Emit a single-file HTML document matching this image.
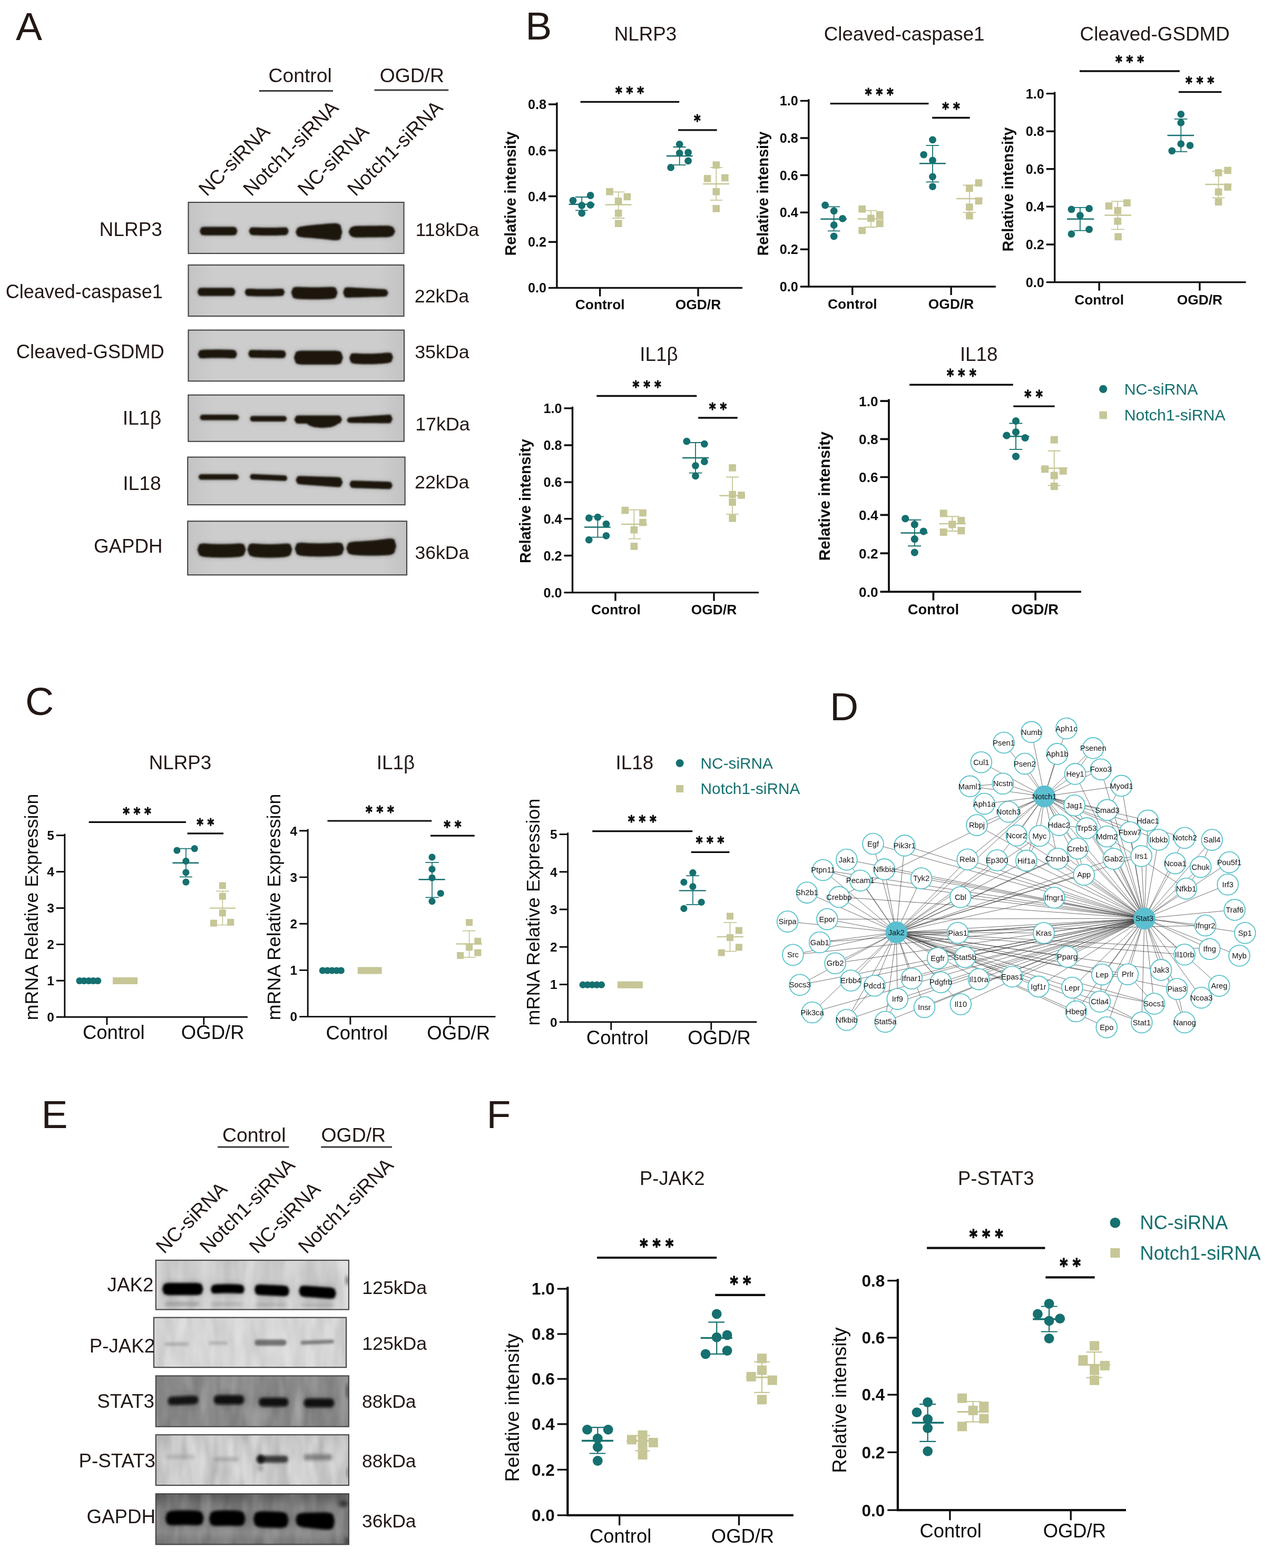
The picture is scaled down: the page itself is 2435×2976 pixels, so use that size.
<!DOCTYPE html>
<html lang="en"><head><meta charset="utf-8"><title>Figure</title>
<style>html,body{margin:0;padding:0;background:#fff}svg{display:block}text{font-family:"Liberation Sans",sans-serif}text.s{font-family:"DejaVu Sans","Liberation Sans",sans-serif;font-weight:700;fill:#0d0d0d;stroke:#0d0d0d;stroke-width:1.1px;stroke-linejoin:round}</style>
</head><body>
<svg width="2435" height="2976" viewBox="0 0 2435 2976" fill="#231815">
<defs><linearGradient id="vig" x1="0" x2="1" y1="0" y2="0"><stop offset="0" stop-color="#000" stop-opacity=".07"/><stop offset=".12" stop-color="#000" stop-opacity="0"/><stop offset=".88" stop-color="#000" stop-opacity="0"/><stop offset="1" stop-color="#000" stop-opacity=".08"/></linearGradient><linearGradient id="dtop" x1="0" x2="0" y1="0" y2="1"><stop offset="0" stop-color="#000" stop-opacity=".35"/><stop offset=".3" stop-color="#000" stop-opacity=".08"/><stop offset=".75" stop-color="#000" stop-opacity="0"/><stop offset="1" stop-color="#000" stop-opacity=".15"/></linearGradient><filter id="nz2" x="0" y="0" width="100%" height="100%"><feTurbulence type="fractalNoise" baseFrequency="0.05 0.015" numOctaves="2" seed="23"/><feColorMatrix type="matrix" values="0 0 0 0 1  0 0 0 0 1  0 0 0 0 1  1.5 0 0 0 -0.55"/></filter><filter id="nz" x="0" y="0" width="100%" height="100%"><feTurbulence type="fractalNoise" baseFrequency="0.045 0.012" numOctaves="2" seed="7"/><feColorMatrix type="matrix" values="0 0 0 0 0  0 0 0 0 0  0 0 0 0 0  1.5 0 0 0 -0.5"/></filter><clipPath id="bc1"><rect x="357.5" y="384" width="409" height="97"/></clipPath><filter id="bl0" x="-30%" y="-150%" width="160%" height="400%"><feGaussianBlur stdDeviation="4.5"/></filter><filter id="bl1" x="-30%" y="-150%" width="160%" height="400%"><feGaussianBlur stdDeviation="1.5"/></filter><clipPath id="bc2"><rect x="357.5" y="503" width="409" height="97"/></clipPath><clipPath id="bc3"><rect x="357.5" y="626.5" width="409.5" height="96.8"/></clipPath><clipPath id="bc4"><rect x="357.3" y="749.7" width="409.5" height="88.1"/></clipPath><clipPath id="bc5"><rect x="356.2" y="867.6" width="412.4" height="90.5"/></clipPath><clipPath id="bc6"><rect x="356.2" y="989.2" width="415.8" height="102"/></clipPath><clipPath id="bc7"><rect x="295.8" y="2391.9" width="366.1" height="93.6"/></clipPath><filter id="bl2" x="-30%" y="-150%" width="160%" height="400%"><feGaussianBlur stdDeviation="9.0"/></filter><filter id="bl3" x="-30%" y="-150%" width="160%" height="400%"><feGaussianBlur stdDeviation="6.0"/></filter><filter id="bl4" x="-30%" y="-150%" width="160%" height="400%"><feGaussianBlur stdDeviation="1.9"/></filter><filter id="bl5" x="-30%" y="-150%" width="160%" height="400%"><feGaussianBlur stdDeviation="3.0"/></filter><clipPath id="bc8"><rect x="291.9" y="2500.6" width="365.2" height="94.6"/></clipPath><filter id="bl6" x="-30%" y="-150%" width="160%" height="400%"><feGaussianBlur stdDeviation="2.5"/></filter><filter id="bl7" x="-30%" y="-150%" width="160%" height="400%"><feGaussianBlur stdDeviation="2.1"/></filter><clipPath id="bc9"><rect x="295.8" y="2611.3" width="366.1" height="96.4"/></clipPath><filter id="bl8" x="-30%" y="-150%" width="160%" height="400%"><feGaussianBlur stdDeviation="7.0"/></filter><filter id="bl9" x="-30%" y="-150%" width="160%" height="400%"><feGaussianBlur stdDeviation="2.9"/></filter><clipPath id="bc10"><rect x="295.8" y="2723.2" width="366.1" height="95.8"/></clipPath><filter id="bl10" x="-30%" y="-150%" width="160%" height="400%"><feGaussianBlur stdDeviation="2.6"/></filter><clipPath id="bc11"><rect x="295.8" y="2835.2" width="366.1" height="96.1"/></clipPath></defs>
<rect width="2435" height="2976" fill="#fff"/>
<text x="30" y="76" font-size="75">A</text>
<text x="997.3" y="75.4" font-size="75">B</text>
<text x="48" y="1357" font-size="75">C</text>
<text x="1575" y="1366.5" font-size="75">D</text>
<text x="78.5" y="2141" font-size="75">E</text>
<text x="923.5" y="2141" font-size="75">F</text>
<text x="569.7" y="155.6" font-size="37.3" text-anchor="middle">Control</text>
<path d="M491.8 172.5L632 172.5" stroke="#3e3a39" stroke-width="2.8"/>
<text x="781.8" y="155.6" font-size="37.3" text-anchor="middle">OGD/R</text>
<path d="M710.5 171L851.2 171" stroke="#3e3a39" stroke-width="2.8"/>
<text transform="translate(392.5 374) rotate(-45)" font-size="37.4">NC-siRNA</text>
<text transform="translate(477 374) rotate(-45)" font-size="37.4">Notch1-siRNA</text>
<text transform="translate(580.5 374) rotate(-45)" font-size="37.4">NC-siRNA</text>
<text transform="translate(674.8 374) rotate(-45)" font-size="37.4">Notch1-siRNA</text>
<g clip-path="url(#bc1)">
<rect x="357.5" y="384" width="409" height="97" fill="#cdcdcd"/>
<rect x="357.5" y="384" width="409" height="97" fill="url(#vig)" opacity="0.625"/>
<g fill="#1a1a1a" opacity="0.22" filter="url(#bl0)"><path d="M379 438.6L381.8 431.8L384.5 430.9L387.3 430.6L390 430.5L392.8 430.5L395.5 430.5L398.3 430.5L401 430.5L403.8 430.5L406.5 430.5L409.3 430.5L412 430.5L414.8 430.5L417.6 430.5L420.3 430.5L423.1 430.5L425.8 430.5L428.6 430.5L431.3 430.5L434.1 430.5L436.8 430.5L439.6 430.5L442.3 430.6L445.1 430.9L447.8 431.8L450.6 438.6L450.6 438.6L447.8 445.4L445.1 446.3L442.3 446.6L439.6 446.7L436.8 446.7L434.1 446.7L431.3 446.7L428.6 446.7L425.8 446.7L423.1 446.7L420.3 446.7L417.6 446.7L414.8 446.7L412 446.7L409.3 446.7L406.5 446.7L403.8 446.7L401 446.7L398.3 446.7L395.5 446.7L392.8 446.7L390 446.7L387.3 446.6L384.5 446.3L381.8 445.4L379 438.6Z"/></g><g fill="#1c1310" filter="url(#bl1)"><path d="M379 438.6L381.8 431.8L384.5 430.9L387.3 430.6L390 430.5L392.8 430.5L395.5 430.5L398.3 430.5L401 430.5L403.8 430.5L406.5 430.5L409.3 430.5L412 430.5L414.8 430.5L417.6 430.5L420.3 430.5L423.1 430.5L425.8 430.5L428.6 430.5L431.3 430.5L434.1 430.5L436.8 430.5L439.6 430.5L442.3 430.6L445.1 430.9L447.8 431.8L450.6 438.6L450.6 438.6L447.8 445.4L445.1 446.3L442.3 446.6L439.6 446.7L436.8 446.7L434.1 446.7L431.3 446.7L428.6 446.7L425.8 446.7L423.1 446.7L420.3 446.7L417.6 446.7L414.8 446.7L412 446.7L409.3 446.7L406.5 446.7L403.8 446.7L401 446.7L398.3 446.7L395.5 446.7L392.8 446.7L390 446.7L387.3 446.6L384.5 446.3L381.8 445.4L379 438.6Z"/></g>
<g fill="#1a1a1a" opacity="0.22" filter="url(#bl0)"><path d="M472.4 438.5L475.3 432.2L478.2 431.5L481.1 431.4L484 431.5L486.9 431.6L489.8 431.7L492.8 431.8L495.7 431.9L498.6 431.9L501.5 431.9L504.4 432L507.3 432L510.2 432L513.1 432L516 432L518.9 431.9L521.8 431.9L524.7 431.9L527.6 431.8L530.6 431.7L533.5 431.6L536.4 431.5L539.3 431.4L542.2 431.5L545.1 432.2L548 438.5L548 438.5L545.1 445.1L542.2 446L539.3 446.4L536.4 446.5L533.5 446.6L530.6 446.7L527.6 446.8L524.7 446.9L521.8 446.9L518.9 446.9L516 447L513.1 447L510.2 447L507.3 447L504.4 447L501.5 446.9L498.6 446.9L495.7 446.9L492.8 446.8L489.8 446.7L486.9 446.6L484 446.5L481.1 446.4L478.2 446L475.3 445.1L472.4 438.5Z"/></g><g fill="#1c1310" filter="url(#bl1)"><path d="M472.4 438.5L475.3 432.2L478.2 431.5L481.1 431.4L484 431.5L486.9 431.6L489.8 431.7L492.8 431.8L495.7 431.9L498.6 431.9L501.5 431.9L504.4 432L507.3 432L510.2 432L513.1 432L516 432L518.9 431.9L521.8 431.9L524.7 431.9L527.6 431.8L530.6 431.7L533.5 431.6L536.4 431.5L539.3 431.4L542.2 431.5L545.1 432.2L548 438.5L548 438.5L545.1 445.1L542.2 446L539.3 446.4L536.4 446.5L533.5 446.6L530.6 446.7L527.6 446.8L524.7 446.9L521.8 446.9L518.9 446.9L516 447L513.1 447L510.2 447L507.3 447L504.4 447L501.5 446.9L498.6 446.9L495.7 446.9L492.8 446.8L489.8 446.7L486.9 446.6L484 446.5L481.1 446.4L478.2 446L475.3 445.1L472.4 438.5Z"/></g>
<g fill="#1a1a1a" opacity="0.22" filter="url(#bl0)"><path d="M561 440.5L564.4 432.8L567.8 431.1L571.2 430.1L574.6 429.4L578 428.9L581.4 428.5L584.8 428.1L588.2 427.7L591.6 427.3L595 427L598.4 426.6L601.8 426.3L605.2 426L608.7 425.7L612.1 425.4L615.5 425.1L618.9 424.8L622.3 424.6L625.7 424.3L629.1 424.1L632.5 423.9L635.9 423.8L639.3 424L642.7 424.9L646.1 427L649.5 440.5L649.5 440.5L646.1 453.7L642.7 455.6L639.3 456.1L635.9 456.1L632.5 455.9L629.1 455.5L625.7 455.1L622.3 454.7L618.9 454.3L615.5 454L612.1 453.6L608.7 453.3L605.2 453L601.8 452.7L598.4 452.4L595 452.1L591.6 451.8L588.2 451.6L584.8 451.3L581.4 451.1L578 450.9L574.6 450.6L571.2 450.1L567.8 449.3L564.4 447.9L561 440.5Z"/></g><g fill="#1c1310" filter="url(#bl1)"><path d="M561 440.5L564.4 432.8L567.8 431.1L571.2 430.1L574.6 429.4L578 428.9L581.4 428.5L584.8 428.1L588.2 427.7L591.6 427.3L595 427L598.4 426.6L601.8 426.3L605.2 426L608.7 425.7L612.1 425.4L615.5 425.1L618.9 424.8L622.3 424.6L625.7 424.3L629.1 424.1L632.5 423.9L635.9 423.8L639.3 424L642.7 424.9L646.1 427L649.5 440.5L649.5 440.5L646.1 453.7L642.7 455.6L639.3 456.1L635.9 456.1L632.5 455.9L629.1 455.5L625.7 455.1L622.3 454.7L618.9 454.3L615.5 454L612.1 453.6L608.7 453.3L605.2 453L601.8 452.7L598.4 452.4L595 452.1L591.6 451.8L588.2 451.6L584.8 451.3L581.4 451.1L578 450.9L574.6 450.6L571.2 450.1L567.8 449.3L564.4 447.9L561 440.5Z"/></g>
<g fill="#1a1a1a" opacity="0.22" filter="url(#bl0)"><path d="M661.5 440L664.9 432.7L668.3 430.6L671.7 429.5L675.1 429L678.5 428.8L681.9 428.8L685.3 428.7L688.7 428.7L692.1 428.7L695.5 428.6L698.9 428.6L702.3 428.5L705.8 428.5L709.2 428.5L712.6 428.4L716 428.4L719.4 428.3L722.8 428.3L726.2 428.3L729.6 428.2L733 428.2L736.4 428.3L739.8 428.7L743.2 429.8L746.6 431.8L750 439L750 439L746.6 446.3L743.2 448.4L739.8 449.5L736.4 450L733 450.2L729.6 450.2L726.2 450.3L722.8 450.3L719.4 450.3L716 450.4L712.6 450.4L709.2 450.5L705.8 450.5L702.3 450.5L698.9 450.6L695.5 450.6L692.1 450.7L688.7 450.7L685.3 450.7L681.9 450.8L678.5 450.8L675.1 450.7L671.7 450.3L668.3 449.2L664.9 447.2L661.5 440Z"/></g><g fill="#1c1310" filter="url(#bl1)"><path d="M661.5 440L664.9 432.7L668.3 430.6L671.7 429.5L675.1 429L678.5 428.8L681.9 428.8L685.3 428.7L688.7 428.7L692.1 428.7L695.5 428.6L698.9 428.6L702.3 428.5L705.8 428.5L709.2 428.5L712.6 428.4L716 428.4L719.4 428.3L722.8 428.3L726.2 428.3L729.6 428.2L733 428.2L736.4 428.3L739.8 428.7L743.2 429.8L746.6 431.8L750 439L750 439L746.6 446.3L743.2 448.4L739.8 449.5L736.4 450L733 450.2L729.6 450.2L726.2 450.3L722.8 450.3L719.4 450.3L716 450.4L712.6 450.4L709.2 450.5L705.8 450.5L702.3 450.5L698.9 450.6L695.5 450.6L692.1 450.7L688.7 450.7L685.3 450.7L681.9 450.8L678.5 450.8L675.1 450.7L671.7 450.3L668.3 449.2L664.9 447.2L661.5 440Z"/></g>
</g>
<rect x="357.5" y="384" width="409" height="97" fill="none" stroke="#454242" stroke-width="2.1"/>
<g clip-path="url(#bc2)">
<rect x="357.5" y="503" width="409" height="97" fill="#cdcdcd"/>
<rect x="357.5" y="503" width="409" height="97" fill="url(#vig)" opacity="0.625"/>
<g fill="#1a1a1a" opacity="0.22" filter="url(#bl0)"><path d="M374.6 554L377.4 547.5L380.2 546.6L383 546.3L385.7 546.3L388.5 546.3L391.3 546.3L394.1 546.3L396.9 546.3L399.7 546.3L402.4 546.3L405.2 546.3L408 546.3L410.8 546.3L413.6 546.3L416.4 546.3L419.2 546.3L421.9 546.3L424.7 546.3L427.5 546.3L430.3 546.3L433.1 546.3L435.9 546.3L438.6 546.3L441.4 546.6L444.2 547.5L447 554L447 554L444.2 560.6L441.4 561.5L438.6 561.8L435.9 561.8L433.1 561.8L430.3 561.8L427.5 561.8L424.7 561.8L421.9 561.8L419.2 561.8L416.4 561.8L413.6 561.8L410.8 561.8L408 561.8L405.2 561.8L402.4 561.8L399.7 561.8L396.9 561.8L394.1 561.8L391.3 561.8L388.5 561.8L385.7 561.8L383 561.8L380.2 561.5L377.4 560.6L374.6 554Z"/></g><g fill="#1c1310" filter="url(#bl1)"><path d="M374.6 554L377.4 547.5L380.2 546.6L383 546.3L385.7 546.3L388.5 546.3L391.3 546.3L394.1 546.3L396.9 546.3L399.7 546.3L402.4 546.3L405.2 546.3L408 546.3L410.8 546.3L413.6 546.3L416.4 546.3L419.2 546.3L421.9 546.3L424.7 546.3L427.5 546.3L430.3 546.3L433.1 546.3L435.9 546.3L438.6 546.3L441.4 546.6L444.2 547.5L447 554L447 554L444.2 560.6L441.4 561.5L438.6 561.8L435.9 561.8L433.1 561.8L430.3 561.8L427.5 561.8L424.7 561.8L421.9 561.8L419.2 561.8L416.4 561.8L413.6 561.8L410.8 561.8L408 561.8L405.2 561.8L402.4 561.8L399.7 561.8L396.9 561.8L394.1 561.8L391.3 561.8L388.5 561.8L385.7 561.8L383 561.8L380.2 561.5L377.4 560.6L374.6 554Z"/></g>
<g fill="#1a1a1a" opacity="0.22" filter="url(#bl0)"><path d="M464.4 554.5L467.3 548.5L470.3 547.9L473.2 547.9L476.1 548L479 548.1L482 548.2L484.9 548.3L487.8 548.4L490.7 548.4L493.7 548.4L496.6 548.5L499.5 548.5L502.4 548.5L505.4 548.5L508.3 548.5L511.2 548.4L514.2 548.4L517.1 548.4L520 548.3L522.9 548.2L525.9 548.1L528.8 548L531.7 547.9L534.6 547.9L537.6 548.5L540.5 554.5L540.5 554.5L537.6 560.8L534.6 561.6L531.7 561.9L528.8 562L525.9 562.1L522.9 562.2L520 562.3L517.1 562.4L514.2 562.4L511.2 562.4L508.3 562.5L505.4 562.5L502.4 562.5L499.5 562.5L496.6 562.5L493.7 562.4L490.7 562.4L487.8 562.4L484.9 562.3L482 562.2L479 562.1L476.1 562L473.2 561.9L470.3 561.6L467.3 560.8L464.4 554.5Z"/></g><g fill="#1c1310" filter="url(#bl1)"><path d="M464.4 554.5L467.3 548.5L470.3 547.9L473.2 547.9L476.1 548L479 548.1L482 548.2L484.9 548.3L487.8 548.4L490.7 548.4L493.7 548.4L496.6 548.5L499.5 548.5L502.4 548.5L505.4 548.5L508.3 548.5L511.2 548.4L514.2 548.4L517.1 548.4L520 548.3L522.9 548.2L525.9 548.1L528.8 548L531.7 547.9L534.6 547.9L537.6 548.5L540.5 554.5L540.5 554.5L537.6 560.8L534.6 561.6L531.7 561.9L528.8 562L525.9 562.1L522.9 562.2L520 562.3L517.1 562.4L514.2 562.4L511.2 562.4L508.3 562.5L505.4 562.5L502.4 562.5L499.5 562.5L496.6 562.5L493.7 562.4L490.7 562.4L487.8 562.4L484.9 562.3L482 562.2L479 562.1L476.1 562L473.2 561.9L470.3 561.6L467.3 560.8L464.4 554.5Z"/></g>
<g fill="#1a1a1a" opacity="0.22" filter="url(#bl0)"><path d="M552.6 555.2L556 546.2L559.4 545L562.8 544.6L566.2 544.6L569.5 544.7L572.9 544.8L576.3 544.9L579.7 545L583.1 545.1L586.5 545.2L589.9 545.2L593.3 545.2L596.7 545.2L600 545.2L603.4 545.2L606.8 545.2L610.2 545.1L613.6 545L617 544.9L620.4 544.8L623.8 544.7L627.1 544.6L630.5 544.6L633.9 545L637.3 546.2L640.7 555.2L640.7 555.2L637.3 564.8L633.9 566.4L630.5 567.1L627.1 567.5L623.8 567.7L620.4 567.8L617 567.9L613.6 568L610.2 568.1L606.8 568.2L603.4 568.2L600 568.2L596.7 568.2L593.3 568.2L589.9 568.2L586.5 568.2L583.1 568.1L579.7 568L576.3 567.9L572.9 567.8L569.5 567.7L566.2 567.5L562.8 567.1L559.4 566.4L556 564.8L552.6 555.2Z"/></g><g fill="#1c1310" filter="url(#bl1)"><path d="M552.6 555.2L556 546.2L559.4 545L562.8 544.6L566.2 544.6L569.5 544.7L572.9 544.8L576.3 544.9L579.7 545L583.1 545.1L586.5 545.2L589.9 545.2L593.3 545.2L596.7 545.2L600 545.2L603.4 545.2L606.8 545.2L610.2 545.1L613.6 545L617 544.9L620.4 544.8L623.8 544.7L627.1 544.6L630.5 544.6L633.9 545L637.3 546.2L640.7 555.2L640.7 555.2L637.3 564.8L633.9 566.4L630.5 567.1L627.1 567.5L623.8 567.7L620.4 567.8L617 567.9L613.6 568L610.2 568.1L606.8 568.2L603.4 568.2L600 568.2L596.7 568.2L593.3 568.2L589.9 568.2L586.5 568.2L583.1 568.1L579.7 568L576.3 567.9L572.9 567.8L569.5 567.7L566.2 567.5L562.8 567.1L559.4 566.4L556 564.8L552.6 555.2Z"/></g>
<g fill="#1a1a1a" opacity="0.22" filter="url(#bl0)"><path d="M651 555L654.3 546.4L657.6 545.4L660.9 545.3L664.2 545.5L667.5 545.6L670.8 545.8L674.2 546L677.5 546.2L680.8 546.3L684.1 546.5L687.4 546.7L690.7 546.8L694 547L697.3 547.2L700.6 547.3L703.9 547.5L707.2 547.7L710.5 547.8L713.8 548L717.2 548.2L720.5 548.4L723.8 548.5L727.1 548.7L730.4 549.1L733.7 550L737 556L737 556L733.7 561.9L730.4 562.8L727.1 563.1L723.8 563.2L720.5 563.3L717.2 563.4L713.8 563.4L710.5 563.5L707.2 563.6L703.9 563.7L700.6 563.8L697.3 563.9L694 564L690.7 564.1L687.4 564.2L684.1 564.3L680.8 564.4L677.5 564.5L674.2 564.6L670.8 564.6L667.5 564.7L664.2 564.8L660.9 564.9L657.6 564.7L654.3 563.7L651 555Z"/></g><g fill="#1c1310" filter="url(#bl1)"><path d="M651 555L654.3 546.4L657.6 545.4L660.9 545.3L664.2 545.5L667.5 545.6L670.8 545.8L674.2 546L677.5 546.2L680.8 546.3L684.1 546.5L687.4 546.7L690.7 546.8L694 547L697.3 547.2L700.6 547.3L703.9 547.5L707.2 547.7L710.5 547.8L713.8 548L717.2 548.2L720.5 548.4L723.8 548.5L727.1 548.7L730.4 549.1L733.7 550L737 556L737 556L733.7 561.9L730.4 562.8L727.1 563.1L723.8 563.2L720.5 563.3L717.2 563.4L713.8 563.4L710.5 563.5L707.2 563.6L703.9 563.7L700.6 563.8L697.3 563.9L694 564L690.7 564.1L687.4 564.2L684.1 564.3L680.8 564.4L677.5 564.5L674.2 564.6L670.8 564.6L667.5 564.7L664.2 564.8L660.9 564.9L657.6 564.7L654.3 563.7L651 555Z"/></g>
</g>
<rect x="357.5" y="503" width="409" height="97" fill="none" stroke="#454242" stroke-width="2.1"/>
<g clip-path="url(#bc3)">
<rect x="357.5" y="626.5" width="409.5" height="96.8" fill="#cdcdcd"/>
<rect x="357.5" y="626.5" width="409.5" height="96.8" fill="url(#vig)" opacity="0.625"/>
<g fill="#1a1a1a" opacity="0.22" filter="url(#bl0)"><path d="M375.6 672.4L378.5 665.4L381.3 664.4L384.2 663.9L387 663.8L389.9 663.7L392.8 663.6L395.6 663.5L398.5 663.4L401.4 663.4L404.2 663.4L407.1 663.3L409.9 663.3L412.8 663.3L415.7 663.3L418.5 663.3L421.4 663.4L424.2 663.4L427.1 663.4L430 663.5L432.8 663.6L435.7 663.7L438.6 663.8L441.4 663.9L444.3 664.4L447.1 665.4L450 672.4L450 672.4L447.1 679.1L444.3 679.9L441.4 680L438.6 680L435.7 679.9L432.8 679.8L430 679.7L427.1 679.6L424.2 679.6L421.4 679.6L418.5 679.5L415.7 679.5L412.8 679.5L409.9 679.5L407.1 679.5L404.2 679.6L401.4 679.6L398.5 679.6L395.6 679.7L392.8 679.8L389.9 679.9L387 680L384.2 680L381.3 679.9L378.5 679.1L375.6 672.4Z"/></g><g fill="#1c1310" filter="url(#bl1)"><path d="M375.6 672.4L378.5 665.4L381.3 664.4L384.2 663.9L387 663.8L389.9 663.7L392.8 663.6L395.6 663.5L398.5 663.4L401.4 663.4L404.2 663.4L407.1 663.3L409.9 663.3L412.8 663.3L415.7 663.3L418.5 663.3L421.4 663.4L424.2 663.4L427.1 663.4L430 663.5L432.8 663.6L435.7 663.7L438.6 663.8L441.4 663.9L444.3 664.4L447.1 665.4L450 672.4L450 672.4L447.1 679.1L444.3 679.9L441.4 680L438.6 680L435.7 679.9L432.8 679.8L430 679.7L427.1 679.6L424.2 679.6L421.4 679.6L418.5 679.5L415.7 679.5L412.8 679.5L409.9 679.5L407.1 679.5L404.2 679.6L401.4 679.6L398.5 679.6L395.6 679.7L392.8 679.8L389.9 679.9L387 680L384.2 680L381.3 679.9L378.5 679.1L375.6 672.4Z"/></g>
<g fill="#1a1a1a" opacity="0.22" filter="url(#bl0)"><path d="M471 671.5L473.8 665.1L476.5 664.3L479.3 664.1L482.1 664.2L484.8 664.2L487.6 664.2L490.4 664.3L493.2 664.3L495.9 664.3L498.7 664.4L501.5 664.4L504.2 664.5L507 664.5L509.8 664.5L512.5 664.6L515.3 664.6L518.1 664.7L520.8 664.7L523.6 664.7L526.4 664.8L529.2 664.8L531.9 664.8L534.7 664.9L537.5 665.2L540.2 666.1L543 672.5L543 672.5L540.2 678.8L537.5 679.6L534.7 679.8L531.9 679.7L529.2 679.7L526.4 679.7L523.6 679.6L520.8 679.6L518.1 679.6L515.3 679.5L512.5 679.5L509.8 679.4L507 679.4L504.2 679.4L501.5 679.3L498.7 679.3L495.9 679.2L493.2 679.2L490.4 679.2L487.6 679.1L484.8 679.1L482.1 679.1L479.3 679L476.5 678.7L473.8 677.8L471 671.5Z"/></g><g fill="#1c1310" filter="url(#bl1)"><path d="M471 671.5L473.8 665.1L476.5 664.3L479.3 664.1L482.1 664.2L484.8 664.2L487.6 664.2L490.4 664.3L493.2 664.3L495.9 664.3L498.7 664.4L501.5 664.4L504.2 664.5L507 664.5L509.8 664.5L512.5 664.6L515.3 664.6L518.1 664.7L520.8 664.7L523.6 664.7L526.4 664.8L529.2 664.8L531.9 664.8L534.7 664.9L537.5 665.2L540.2 666.1L543 672.5L543 672.5L540.2 678.8L537.5 679.6L534.7 679.8L531.9 679.7L529.2 679.7L526.4 679.7L523.6 679.6L520.8 679.6L518.1 679.6L515.3 679.5L512.5 679.5L509.8 679.4L507 679.4L504.2 679.4L501.5 679.3L498.7 679.3L495.9 679.2L493.2 679.2L490.4 679.2L487.6 679.1L484.8 679.1L482.1 679.1L479.3 679L476.5 678.7L473.8 677.8L471 671.5Z"/></g>
<g fill="#1a1a1a" opacity="0.22" filter="url(#bl0)"><path d="M557.8 678.8L561.4 668.3L565 666.6L568.6 665.9L572.1 665.6L575.7 665.5L579.3 665.5L582.9 665.5L586.5 665.5L590.1 665.5L593.6 665.5L597.2 665.5L600.8 665.5L604.4 665.5L608 665.5L611.6 665.5L615.2 665.5L618.7 665.5L622.3 665.5L625.9 665.5L629.5 665.5L633.1 665.5L636.7 665.6L640.2 665.9L643.8 666.6L647.4 668.3L651 678.8L651 678.8L647.4 689.2L643.8 690.9L640.2 691.6L636.7 691.9L633.1 692L629.5 692L625.9 692L622.3 692L618.7 692L615.2 692L611.6 692L608 692L604.4 692L600.8 692L597.2 692L593.6 692L590.1 692L586.5 692L582.9 692L579.3 692L575.7 692L572.1 691.9L568.6 691.6L565 690.9L561.4 689.2L557.8 678.8Z"/></g><g fill="#1c1310" filter="url(#bl1)"><path d="M557.8 678.8L561.4 668.3L565 666.6L568.6 665.9L572.1 665.6L575.7 665.5L579.3 665.5L582.9 665.5L586.5 665.5L590.1 665.5L593.6 665.5L597.2 665.5L600.8 665.5L604.4 665.5L608 665.5L611.6 665.5L615.2 665.5L618.7 665.5L622.3 665.5L625.9 665.5L629.5 665.5L633.1 665.5L636.7 665.6L640.2 665.9L643.8 666.6L647.4 668.3L651 678.8L651 678.8L647.4 689.2L643.8 690.9L640.2 691.6L636.7 691.9L633.1 692L629.5 692L625.9 692L622.3 692L618.7 692L615.2 692L611.6 692L608 692L604.4 692L600.8 692L597.2 692L593.6 692L590.1 692L586.5 692L582.9 692L579.3 692L575.7 692L572.1 691.9L568.6 691.6L565 690.9L561.4 689.2L557.8 678.8Z"/></g>
<g fill="#1a1a1a" opacity="0.22" filter="url(#bl0)"><path d="M663 679.5L666.2 671.6L669.4 670.7L672.6 670.5L675.8 670.6L679 670.8L682.2 670.9L685.3 671.1L688.5 671.2L691.7 671.2L694.9 671.3L698.1 671.3L701.3 671.3L704.5 671.2L707.7 671.2L710.9 671.1L714.1 670.9L717.3 670.8L720.5 670.6L723.7 670.4L726.8 670.1L730 669.8L733.2 669.5L736.4 669.3L739.6 669.4L742.8 670.2L746 678L746 678L742.8 686.7L739.6 688.3L736.4 689.1L733.2 689.5L730 689.8L726.8 690.1L723.7 690.4L720.5 690.6L717.3 690.8L714.1 690.9L710.9 691.1L707.7 691.2L704.5 691.2L701.3 691.3L698.1 691.3L694.9 691.3L691.7 691.2L688.5 691.2L685.3 691.1L682.2 690.9L679 690.8L675.8 690.6L672.6 690.2L669.4 689.5L666.2 688L663 679.5Z"/></g><g fill="#1c1310" filter="url(#bl1)"><path d="M663 679.5L666.2 671.6L669.4 670.7L672.6 670.5L675.8 670.6L679 670.8L682.2 670.9L685.3 671.1L688.5 671.2L691.7 671.2L694.9 671.3L698.1 671.3L701.3 671.3L704.5 671.2L707.7 671.2L710.9 671.1L714.1 670.9L717.3 670.8L720.5 670.6L723.7 670.4L726.8 670.1L730 669.8L733.2 669.5L736.4 669.3L739.6 669.4L742.8 670.2L746 678L746 678L742.8 686.7L739.6 688.3L736.4 689.1L733.2 689.5L730 689.8L726.8 690.1L723.7 690.4L720.5 690.6L717.3 690.8L714.1 690.9L710.9 691.1L707.7 691.2L704.5 691.2L701.3 691.3L698.1 691.3L694.9 691.3L691.7 691.2L688.5 691.2L685.3 691.1L682.2 690.9L679 690.8L675.8 690.6L672.6 690.2L669.4 689.5L666.2 688L663 679.5Z"/></g>
</g>
<rect x="357.5" y="626.5" width="409.5" height="96.8" fill="none" stroke="#454242" stroke-width="2.1"/>
<g clip-path="url(#bc4)">
<rect x="357.3" y="749.7" width="409.5" height="88.1" fill="#cdcdcd"/>
<rect x="357.3" y="749.7" width="409.5" height="88.1" fill="url(#vig)" opacity="0.625"/>
<g fill="#1a1a1a" opacity="0.22" filter="url(#bl0)"><path d="M379 792.3L381.9 787.4L384.8 787L387.7 787L390.5 787L393.4 787L396.3 787L399.2 787L402.1 787L405 787L407.8 787L410.7 787L413.6 787L416.5 787L419.4 787L422.3 787L425.2 787L428 787L430.9 787L433.8 787L436.7 787L439.6 787L442.5 787L445.3 787L448.2 787L451.1 787.4L454 792.3L454 792.3L451.1 797.2L448.2 797.6L445.3 797.6L442.5 797.6L439.6 797.6L436.7 797.6L433.8 797.6L430.9 797.6L428 797.6L425.2 797.6L422.3 797.6L419.4 797.6L416.5 797.6L413.6 797.6L410.7 797.6L407.8 797.6L405 797.6L402.1 797.6L399.2 797.6L396.3 797.6L393.4 797.6L390.5 797.6L387.7 797.6L384.8 797.6L381.9 797.2L379 792.3Z"/></g><g fill="#1c1310" filter="url(#bl1)"><path d="M379 792.3L381.9 787.4L384.8 787L387.7 787L390.5 787L393.4 787L396.3 787L399.2 787L402.1 787L405 787L407.8 787L410.7 787L413.6 787L416.5 787L419.4 787L422.3 787L425.2 787L428 787L430.9 787L433.8 787L436.7 787L439.6 787L442.5 787L445.3 787L448.2 787L451.1 787.4L454 792.3L454 792.3L451.1 797.2L448.2 797.6L445.3 797.6L442.5 797.6L439.6 797.6L436.7 797.6L433.8 797.6L430.9 797.6L428 797.6L425.2 797.6L422.3 797.6L419.4 797.6L416.5 797.6L413.6 797.6L410.7 797.6L407.8 797.6L405 797.6L402.1 797.6L399.2 797.6L396.3 797.6L393.4 797.6L390.5 797.6L387.7 797.6L384.8 797.6L381.9 797.2L379 792.3Z"/></g>
<g fill="#1a1a1a" opacity="0.22" filter="url(#bl0)"><path d="M474 794.7L476.7 789.9L479.4 789.4L482.1 789.4L484.9 789.4L487.6 789.4L490.3 789.4L493 789.4L495.7 789.4L498.4 789.4L501.2 789.4L503.9 789.4L506.6 789.4L509.3 789.4L512 789.4L514.7 789.4L517.4 789.4L520.2 789.4L522.9 789.4L525.6 789.4L528.3 789.4L531 789.4L533.7 789.4L536.5 789.4L539.2 789.4L541.9 789.9L544.6 794.7L544.6 794.7L541.9 799.5L539.2 800L536.5 800L533.7 800L531 800L528.3 800L525.6 800L522.9 800L520.2 800L517.4 800L514.7 800L512 800L509.3 800L506.6 800L503.9 800L501.2 800L498.4 800L495.7 800L493 800L490.3 800L487.6 800L484.9 800L482.1 800L479.4 800L476.7 799.5L474 794.7Z"/></g><g fill="#1c1310" filter="url(#bl1)"><path d="M474 794.7L476.7 789.9L479.4 789.4L482.1 789.4L484.9 789.4L487.6 789.4L490.3 789.4L493 789.4L495.7 789.4L498.4 789.4L501.2 789.4L503.9 789.4L506.6 789.4L509.3 789.4L512 789.4L514.7 789.4L517.4 789.4L520.2 789.4L522.9 789.4L525.6 789.4L528.3 789.4L531 789.4L533.7 789.4L536.5 789.4L539.2 789.4L541.9 789.9L544.6 794.7L544.6 794.7L541.9 799.5L539.2 800L536.5 800L533.7 800L531 800L528.3 800L525.6 800L522.9 800L520.2 800L517.4 800L514.7 800L512 800L509.3 800L506.6 800L503.9 800L501.2 800L498.4 800L495.7 800L493 800L490.3 800L487.6 800L484.9 800L482.1 800L479.4 800L476.7 799.5L474 794.7Z"/></g>
<g fill="#1a1a1a" opacity="0.22" filter="url(#bl0)"><path d="M558.4 796.2L561.9 789.4L565.4 788.6L568.9 788.5L572.4 788.5L575.9 788.5L579.4 788.5L582.9 788.5L586.4 788.5L589.9 788.5L593.4 788.5L596.9 788.5L600.4 788.5L603.8 788.5L607.3 788.5L610.8 788.5L614.3 788.5L617.8 788.5L621.3 788.5L624.8 788.5L628.3 788.5L631.8 788.5L635.3 788.5L638.8 788.5L642.3 788.6L645.8 789.4L649.3 796.2L649.3 796.2L645.8 803.1L642.3 803.9L638.8 804L635.3 804L631.8 804L628.3 804L624.8 804L621.3 804L617.8 804L614.3 804L610.8 804L607.3 804L603.8 804L600.4 804L596.9 804L593.4 804L589.9 804L586.4 804L582.9 804L579.4 804L575.9 804L572.4 804L568.9 804L565.4 803.9L561.9 803.1L558.4 796.2Z"/><ellipse cx="612" cy="800.5" rx="31" ry="11.5"/></g><g fill="#1c1310" filter="url(#bl1)"><path d="M558.4 796.2L561.9 789.4L565.4 788.6L568.9 788.5L572.4 788.5L575.9 788.5L579.4 788.5L582.9 788.5L586.4 788.5L589.9 788.5L593.4 788.5L596.9 788.5L600.4 788.5L603.8 788.5L607.3 788.5L610.8 788.5L614.3 788.5L617.8 788.5L621.3 788.5L624.8 788.5L628.3 788.5L631.8 788.5L635.3 788.5L638.8 788.5L642.3 788.6L645.8 789.4L649.3 796.2L649.3 796.2L645.8 803.1L642.3 803.9L638.8 804L635.3 804L631.8 804L628.3 804L624.8 804L621.3 804L617.8 804L614.3 804L610.8 804L607.3 804L603.8 804L600.4 804L596.9 804L593.4 804L589.9 804L586.4 804L582.9 804L579.4 804L575.9 804L572.4 804L568.9 804L565.4 803.9L561.9 803.1L558.4 796.2Z"/><ellipse cx="612" cy="800.5" rx="31" ry="11.5"/></g>
<g fill="#1a1a1a" opacity="0.22" filter="url(#bl0)"><path d="M658 797.5L661.3 792.7L664.7 792L668 791.8L671.4 791.5L674.7 791.3L678.1 791.1L681.4 790.9L684.8 790.6L688.1 790.4L691.5 790.2L694.8 790L698.2 789.7L701.5 789.5L704.8 789.3L708.2 789L711.5 788.8L714.9 788.6L718.2 788.4L721.6 788.1L724.9 787.9L728.3 787.7L731.6 787.5L735 787.2L738.3 787.1L741.7 787.6L745 795L745 795L741.7 802.6L738.3 803.3L735 803.3L731.6 803.3L728.3 803.3L724.9 803.2L721.6 803.2L718.2 803.2L714.9 803.1L711.5 803.1L708.2 803.1L704.8 803L701.5 803L698.2 803L694.8 802.9L691.5 802.9L688.1 802.9L684.8 802.8L681.4 802.8L678.1 802.8L674.7 802.7L671.4 802.7L668 802.7L664.7 802.6L661.3 802.1L658 797.5Z"/></g><g fill="#1c1310" filter="url(#bl1)"><path d="M658 797.5L661.3 792.7L664.7 792L668 791.8L671.4 791.5L674.7 791.3L678.1 791.1L681.4 790.9L684.8 790.6L688.1 790.4L691.5 790.2L694.8 790L698.2 789.7L701.5 789.5L704.8 789.3L708.2 789L711.5 788.8L714.9 788.6L718.2 788.4L721.6 788.1L724.9 787.9L728.3 787.7L731.6 787.5L735 787.2L738.3 787.1L741.7 787.6L745 795L745 795L741.7 802.6L738.3 803.3L735 803.3L731.6 803.3L728.3 803.3L724.9 803.2L721.6 803.2L718.2 803.2L714.9 803.1L711.5 803.1L708.2 803.1L704.8 803L701.5 803L698.2 803L694.8 802.9L691.5 802.9L688.1 802.9L684.8 802.8L681.4 802.8L678.1 802.8L674.7 802.7L671.4 802.7L668 802.7L664.7 802.6L661.3 802.1L658 797.5Z"/></g>
</g>
<rect x="357.3" y="749.7" width="409.5" height="88.1" fill="none" stroke="#454242" stroke-width="2.1"/>
<g clip-path="url(#bc5)">
<rect x="356.2" y="867.6" width="412.4" height="90.5" fill="#cdcdcd"/>
<rect x="356.2" y="867.6" width="412.4" height="90.5" fill="url(#vig)" opacity="0.625"/>
<g fill="#1a1a1a" opacity="0.22" filter="url(#bl0)"><path d="M376.3 905.3L379.3 900.4L382.2 900L385.2 900L388.2 900L391.1 900L394.1 900L397.1 900L400 900L403 900L406 900L408.9 900L411.9 900L414.9 900L417.8 900L420.8 900L423.7 900L426.7 900L429.7 900L432.6 900L435.6 900L438.6 900L441.5 900L444.5 900L447.5 900L450.4 900.4L453.4 905.3L453.4 905.3L450.4 910.2L447.5 910.6L444.5 910.6L441.5 910.6L438.6 910.6L435.6 910.6L432.6 910.6L429.7 910.6L426.7 910.6L423.7 910.6L420.8 910.6L417.8 910.6L414.9 910.6L411.9 910.6L408.9 910.6L406 910.6L403 910.6L400 910.6L397.1 910.6L394.1 910.6L391.1 910.6L388.2 910.6L385.2 910.6L382.2 910.6L379.3 910.2L376.3 905.3Z"/></g><g fill="#1c1310" filter="url(#bl1)"><path d="M376.3 905.3L379.3 900.4L382.2 900L385.2 900L388.2 900L391.1 900L394.1 900L397.1 900L400 900L403 900L406 900L408.9 900L411.9 900L414.9 900L417.8 900L420.8 900L423.7 900L426.7 900L429.7 900L432.6 900L435.6 900L438.6 900L441.5 900L444.5 900L447.5 900L450.4 900.4L453.4 905.3L453.4 905.3L450.4 910.2L447.5 910.6L444.5 910.6L441.5 910.6L438.6 910.6L435.6 910.6L432.6 910.6L429.7 910.6L426.7 910.6L423.7 910.6L420.8 910.6L417.8 910.6L414.9 910.6L411.9 910.6L408.9 910.6L406 910.6L403 910.6L400 910.6L397.1 910.6L394.1 910.6L391.1 910.6L388.2 910.6L385.2 910.6L382.2 910.6L379.3 910.2L376.3 905.3Z"/></g>
<g fill="#1a1a1a" opacity="0.22" filter="url(#bl0)"><path d="M474 904.8L476.8 900.1L479.5 899.8L482.3 899.8L485 900L487.8 900.1L490.5 900.2L493.3 900.3L496 900.4L498.8 900.5L501.5 900.7L504.3 900.8L507 900.9L509.8 901L512.6 901.1L515.3 901.2L518.1 901.3L520.8 901.5L523.6 901.6L526.3 901.7L529.1 901.8L531.8 901.9L534.6 902L537.3 902.2L540.1 902.3L542.8 902.8L545.6 907.8L545.6 907.8L542.8 912.4L540.1 912.7L537.3 912.7L534.6 912.5L531.8 912.4L529.1 912.3L526.3 912.2L523.6 912.1L520.8 912L518.1 911.8L515.3 911.7L512.6 911.6L509.8 911.5L507 911.4L504.3 911.3L501.5 911.2L498.8 911L496 910.9L493.3 910.8L490.5 910.7L487.8 910.6L485 910.5L482.3 910.3L479.5 910.2L476.8 909.7L474 904.8Z"/></g><g fill="#1c1310" filter="url(#bl1)"><path d="M474 904.8L476.8 900.1L479.5 899.8L482.3 899.8L485 900L487.8 900.1L490.5 900.2L493.3 900.3L496 900.4L498.8 900.5L501.5 900.7L504.3 900.8L507 900.9L509.8 901L512.6 901.1L515.3 901.2L518.1 901.3L520.8 901.5L523.6 901.6L526.3 901.7L529.1 901.8L531.8 901.9L534.6 902L537.3 902.2L540.1 902.3L542.8 902.8L545.6 907.8L545.6 907.8L542.8 912.4L540.1 912.7L537.3 912.7L534.6 912.5L531.8 912.4L529.1 912.3L526.3 912.2L523.6 912.1L520.8 912L518.1 911.8L515.3 911.7L512.6 911.6L509.8 911.5L507 911.4L504.3 911.3L501.5 911.2L498.8 911L496 910.9L493.3 910.8L490.5 910.7L487.8 910.6L485 910.5L482.3 910.3L479.5 910.2L476.8 909.7L474 904.8Z"/></g>
<g fill="#1a1a1a" opacity="0.22" filter="url(#bl0)"><path d="M561.2 911L564.6 904.3L568.1 903.6L571.5 903.5L574.9 903.5L578.4 903.7L581.8 903.8L585.2 903.9L588.6 904L592.1 904.1L595.5 904.2L598.9 904.3L602.4 904.4L605.8 904.5L609.2 904.6L612.7 904.7L616.1 904.8L619.5 904.9L623 905L626.4 905.1L629.8 905.2L633.2 905.3L636.7 905.5L640.1 905.6L643.5 906L647 907.1L650.4 915.5L650.4 915.5L647 923.6L643.5 924.4L640.1 924.4L636.7 924.2L633.2 923.9L629.8 923.7L626.4 923.4L623 923.2L619.5 923L616.1 922.7L612.7 922.5L609.2 922.2L605.8 922L602.4 921.8L598.9 921.5L595.5 921.3L592.1 921L588.6 920.8L585.2 920.6L581.8 920.3L578.4 920.1L574.9 919.8L571.5 919.6L568.1 919.1L564.6 918L561.2 911Z"/></g><g fill="#1c1310" filter="url(#bl1)"><path d="M561.2 911L564.6 904.3L568.1 903.6L571.5 903.5L574.9 903.5L578.4 903.7L581.8 903.8L585.2 903.9L588.6 904L592.1 904.1L595.5 904.2L598.9 904.3L602.4 904.4L605.8 904.5L609.2 904.6L612.7 904.7L616.1 904.8L619.5 904.9L623 905L626.4 905.1L629.8 905.2L633.2 905.3L636.7 905.5L640.1 905.6L643.5 906L647 907.1L650.4 915.5L650.4 915.5L647 923.6L643.5 924.4L640.1 924.4L636.7 924.2L633.2 923.9L629.8 923.7L626.4 923.4L623 923.2L619.5 923L616.1 922.7L612.7 922.5L609.2 922.2L605.8 922L602.4 921.8L598.9 921.5L595.5 921.3L592.1 921L588.6 920.8L585.2 920.6L581.8 920.3L578.4 920.1L574.9 919.8L571.5 919.6L568.1 919.1L564.6 918L561.2 911Z"/></g>
<g fill="#1a1a1a" opacity="0.22" filter="url(#bl0)"><path d="M663.2 919L666.3 912.8L669.5 912.3L672.6 912.2L675.8 912.3L678.9 912.4L682.1 912.5L685.2 912.6L688.4 912.7L691.5 912.8L694.7 912.9L697.8 913L701 913.1L704.1 913.2L707.2 913.3L710.4 913.4L713.5 913.5L716.7 913.6L719.8 913.7L723 913.8L726.1 913.9L729.3 914L732.4 914.1L735.6 914.2L738.7 914.4L741.9 915.1L745 921.5L745 921.5L741.9 927.6L738.7 928.1L735.6 928.2L732.4 928.1L729.3 928L726.1 927.9L723 927.8L719.8 927.7L716.7 927.6L713.5 927.5L710.4 927.4L707.2 927.3L704.1 927.2L701 927.1L697.8 927L694.7 926.9L691.5 926.8L688.4 926.7L685.2 926.6L682.1 926.5L678.9 926.4L675.8 926.3L672.6 926.2L669.5 926L666.3 925.3L663.2 919Z"/></g><g fill="#1c1310" filter="url(#bl1)"><path d="M663.2 919L666.3 912.8L669.5 912.3L672.6 912.2L675.8 912.3L678.9 912.4L682.1 912.5L685.2 912.6L688.4 912.7L691.5 912.8L694.7 912.9L697.8 913L701 913.1L704.1 913.2L707.2 913.3L710.4 913.4L713.5 913.5L716.7 913.6L719.8 913.7L723 913.8L726.1 913.9L729.3 914L732.4 914.1L735.6 914.2L738.7 914.4L741.9 915.1L745 921.5L745 921.5L741.9 927.6L738.7 928.1L735.6 928.2L732.4 928.1L729.3 928L726.1 927.9L723 927.8L719.8 927.7L716.7 927.6L713.5 927.5L710.4 927.4L707.2 927.3L704.1 927.2L701 927.1L697.8 927L694.7 926.9L691.5 926.8L688.4 926.7L685.2 926.6L682.1 926.5L678.9 926.4L675.8 926.3L672.6 926.2L669.5 926L666.3 925.3L663.2 919Z"/></g>
</g>
<rect x="356.2" y="867.6" width="412.4" height="90.5" fill="none" stroke="#454242" stroke-width="2.1"/>
<g clip-path="url(#bc6)">
<rect x="356.2" y="989.2" width="415.8" height="102" fill="#cdcdcd"/>
<rect x="356.2" y="989.2" width="415.8" height="102" fill="url(#vig)" opacity="0.625"/>
<g fill="#1a1a1a" opacity="0.3" filter="url(#bl0)"><path d="M374.6 1043L378.1 1033.2L381.7 1032L385.2 1031.6L388.7 1031.6L392.3 1031.8L395.8 1032L399.3 1032.2L402.9 1032.4L406.4 1032.5L409.9 1032.6L413.5 1032.7L417 1032.7L420.6 1032.8L424.1 1032.7L427.6 1032.7L431.2 1032.6L434.7 1032.5L438.2 1032.4L441.8 1032.2L445.3 1032L448.8 1031.8L452.4 1031.6L455.9 1031.6L459.4 1032L463 1033.2L466.5 1043L466.5 1043L463 1053.5L459.4 1055.5L455.9 1056.5L452.4 1057L448.8 1057.3L445.3 1057.5L441.8 1057.7L438.2 1057.9L434.7 1058L431.2 1058.1L427.6 1058.2L424.1 1058.2L420.6 1058.2L417 1058.2L413.5 1058.2L409.9 1058.1L406.4 1058L402.9 1057.9L399.3 1057.7L395.8 1057.5L392.3 1057.3L388.7 1057L385.2 1056.5L381.7 1055.5L378.1 1053.5L374.6 1043Z"/></g><g fill="#1c1310" filter="url(#bl1)"><path d="M374.6 1043L378.1 1033.2L381.7 1032L385.2 1031.6L388.7 1031.6L392.3 1031.8L395.8 1032L399.3 1032.2L402.9 1032.4L406.4 1032.5L409.9 1032.6L413.5 1032.7L417 1032.7L420.6 1032.8L424.1 1032.7L427.6 1032.7L431.2 1032.6L434.7 1032.5L438.2 1032.4L441.8 1032.2L445.3 1032L448.8 1031.8L452.4 1031.6L455.9 1031.6L459.4 1032L463 1033.2L466.5 1043L466.5 1043L463 1053.5L459.4 1055.5L455.9 1056.5L452.4 1057L448.8 1057.3L445.3 1057.5L441.8 1057.7L438.2 1057.9L434.7 1058L431.2 1058.1L427.6 1058.2L424.1 1058.2L420.6 1058.2L417 1058.2L413.5 1058.2L409.9 1058.1L406.4 1058L402.9 1057.9L399.3 1057.7L395.8 1057.5L392.3 1057.3L388.7 1057L385.2 1056.5L381.7 1055.5L378.1 1053.5L374.6 1043Z"/></g>
<g fill="#1a1a1a" opacity="0.3" filter="url(#bl0)"><path d="M469.6 1042.8L472.9 1033.3L476.1 1032L479.4 1031.6L482.7 1031.7L485.9 1031.9L489.2 1032.1L492.5 1032.4L495.7 1032.6L499 1032.7L502.3 1032.8L505.5 1032.9L508.8 1033L512 1033L515.3 1033L518.6 1032.9L521.8 1032.8L525.1 1032.7L528.4 1032.6L531.6 1032.4L534.9 1032.1L538.2 1031.9L541.4 1031.7L544.7 1031.6L548 1032L551.2 1033.3L554.5 1042.8L554.5 1042.8L551.2 1053.1L548 1055.2L544.7 1056.3L541.4 1057L538.2 1057.4L534.9 1057.6L531.6 1057.9L528.4 1058.1L525.1 1058.2L521.8 1058.3L518.6 1058.4L515.3 1058.5L512 1058.5L508.8 1058.5L505.5 1058.4L502.3 1058.3L499 1058.2L495.7 1058.1L492.5 1057.9L489.2 1057.6L485.9 1057.4L482.7 1057L479.4 1056.3L476.1 1055.2L472.9 1053.1L469.6 1042.8Z"/></g><g fill="#1c1310" filter="url(#bl1)"><path d="M469.6 1042.8L472.9 1033.3L476.1 1032L479.4 1031.6L482.7 1031.7L485.9 1031.9L489.2 1032.1L492.5 1032.4L495.7 1032.6L499 1032.7L502.3 1032.8L505.5 1032.9L508.8 1033L512 1033L515.3 1033L518.6 1032.9L521.8 1032.8L525.1 1032.7L528.4 1032.6L531.6 1032.4L534.9 1032.1L538.2 1031.9L541.4 1031.7L544.7 1031.6L548 1032L551.2 1033.3L554.5 1042.8L554.5 1042.8L551.2 1053.1L548 1055.2L544.7 1056.3L541.4 1057L538.2 1057.4L534.9 1057.6L531.6 1057.9L528.4 1058.1L525.1 1058.2L521.8 1058.3L518.6 1058.4L515.3 1058.5L512 1058.5L508.8 1058.5L505.5 1058.4L502.3 1058.3L499 1058.2L495.7 1058.1L492.5 1057.9L489.2 1057.6L485.9 1057.4L482.7 1057L479.4 1056.3L476.1 1055.2L472.9 1053.1L469.6 1042.8Z"/></g>
<g fill="#1a1a1a" opacity="0.3" filter="url(#bl0)"><path d="M559.5 1041.2L563.1 1031.6L566.7 1030.4L570.3 1030L573.9 1030.1L577.5 1030.3L581.1 1030.5L584.7 1030.7L588.3 1030.9L591.9 1031L595.5 1031.1L599.1 1031.2L602.7 1031.2L606.2 1031.2L609.8 1031.2L613.4 1031.2L617 1031.1L620.6 1031L624.2 1030.9L627.8 1030.7L631.4 1030.5L635 1030.3L638.6 1030.1L642.2 1030L645.8 1030.4L649.4 1031.6L653 1041.2L653 1041.2L649.4 1051.6L645.8 1053.6L642.2 1054.5L638.6 1055L635 1055.3L631.4 1055.5L627.8 1055.7L624.2 1055.9L620.6 1056L617 1056.1L613.4 1056.2L609.8 1056.2L606.2 1056.2L602.7 1056.2L599.1 1056.2L595.5 1056.1L591.9 1056L588.3 1055.9L584.7 1055.7L581.1 1055.5L577.5 1055.3L573.9 1055L570.3 1054.5L566.7 1053.6L563.1 1051.6L559.5 1041.2Z"/></g><g fill="#1c1310" filter="url(#bl1)"><path d="M559.5 1041.2L563.1 1031.6L566.7 1030.4L570.3 1030L573.9 1030.1L577.5 1030.3L581.1 1030.5L584.7 1030.7L588.3 1030.9L591.9 1031L595.5 1031.1L599.1 1031.2L602.7 1031.2L606.2 1031.2L609.8 1031.2L613.4 1031.2L617 1031.1L620.6 1031L624.2 1030.9L627.8 1030.7L631.4 1030.5L635 1030.3L638.6 1030.1L642.2 1030L645.8 1030.4L649.4 1031.6L653 1041.2L653 1041.2L649.4 1051.6L645.8 1053.6L642.2 1054.5L638.6 1055L635 1055.3L631.4 1055.5L627.8 1055.7L624.2 1055.9L620.6 1056L617 1056.1L613.4 1056.2L609.8 1056.2L606.2 1056.2L602.7 1056.2L599.1 1056.2L595.5 1056.1L591.9 1056L588.3 1055.9L584.7 1055.7L581.1 1055.5L577.5 1055.3L573.9 1055L570.3 1054.5L566.7 1053.6L563.1 1051.6L559.5 1041.2Z"/></g>
<g fill="#1a1a1a" opacity="0.3" filter="url(#bl0)"><path d="M657.3 1040.2L660.9 1030.8L664.6 1029.2L668.2 1028.4L671.9 1028L675.5 1027.8L679.2 1027.6L682.8 1027.5L686.4 1027.3L690.1 1027.1L693.7 1026.8L697.4 1026.6L701 1026.3L704.6 1026L708.3 1025.7L711.9 1025.3L715.6 1024.9L719.2 1024.5L722.9 1024.1L726.5 1023.7L730.1 1023.2L733.8 1022.7L737.4 1022.3L741.1 1022.2L744.7 1022.5L748.4 1024.1L752 1036.2L752 1036.2L748.4 1049.3L744.7 1051.7L741.1 1052.9L737.4 1053.5L733.8 1053.8L730.1 1054L726.5 1054.1L722.9 1054.3L719.2 1054.4L715.6 1054.4L711.9 1054.5L708.3 1054.5L704.6 1054.5L701 1054.5L697.4 1054.4L693.7 1054.4L690.1 1054.3L686.4 1054.2L682.8 1054L679.2 1053.8L675.5 1053.6L671.9 1053.3L668.2 1052.8L664.6 1051.8L660.9 1050L657.3 1040.2Z"/></g><g fill="#1c1310" filter="url(#bl1)"><path d="M657.3 1040.2L660.9 1030.8L664.6 1029.2L668.2 1028.4L671.9 1028L675.5 1027.8L679.2 1027.6L682.8 1027.5L686.4 1027.3L690.1 1027.1L693.7 1026.8L697.4 1026.6L701 1026.3L704.6 1026L708.3 1025.7L711.9 1025.3L715.6 1024.9L719.2 1024.5L722.9 1024.1L726.5 1023.7L730.1 1023.2L733.8 1022.7L737.4 1022.3L741.1 1022.2L744.7 1022.5L748.4 1024.1L752 1036.2L752 1036.2L748.4 1049.3L744.7 1051.7L741.1 1052.9L737.4 1053.5L733.8 1053.8L730.1 1054L726.5 1054.1L722.9 1054.3L719.2 1054.4L715.6 1054.4L711.9 1054.5L708.3 1054.5L704.6 1054.5L701 1054.5L697.4 1054.4L693.7 1054.4L690.1 1054.3L686.4 1054.2L682.8 1054L679.2 1053.8L675.5 1053.6L671.9 1053.3L668.2 1052.8L664.6 1051.8L660.9 1050L657.3 1040.2Z"/></g>
</g>
<rect x="356.2" y="989.2" width="415.8" height="102" fill="none" stroke="#454242" stroke-width="2.1"/>
<text x="307.9" y="447.7" font-size="37" text-anchor="end">NLRP3</text>
<text x="308.9" y="566" font-size="36" text-anchor="end">Cleaved-caspase1</text>
<text x="311.9" y="679.8" font-size="36.4" text-anchor="end">Cleaved-GSDMD</text>
<text x="306.2" y="806.3" font-size="37.4" text-anchor="end">IL1β</text>
<text x="305.6" y="929.8" font-size="37.2" text-anchor="end">IL18</text>
<text x="308.4" y="1048.7" font-size="36.7" text-anchor="end">GAPDH</text>
<text x="788.4" y="448.3" font-size="35.8">118kDa</text>
<text x="786.8" y="574.2" font-size="35.8">22kDa</text>
<text x="787.2" y="680.4" font-size="35.8">35kDa</text>
<text x="788.2" y="816.5" font-size="35.8">17kDa</text>
<text x="787" y="927.2" font-size="35.8">22kDa</text>
<text x="787.6" y="1060.8" font-size="35.5">36kDa</text>
<g>
<text x="1225" y="76.5" font-size="36.8" text-anchor="middle">NLRP3</text>
<path d="M1056.9 194.6V546.4H1409" stroke="#0d0d0d" stroke-width="3.4" fill="none" stroke-linejoin="miter"/>
<path d="M1056.9 198H1040.9M1056.9 285.5H1040.9M1056.9 372.5H1040.9M1056.9 459.3H1040.9M1056.9 546.4H1040.9M1138.7 546.4V562.4M1325 546.4V562.4" stroke="#0d0d0d" stroke-width="3.4" fill="none"/>
<text x="1036.9" y="207" font-size="25.2" font-weight="700" text-anchor="end" fill="#0d0d0d">0.8</text>
<text x="1036.9" y="294.5" font-size="25.2" font-weight="700" text-anchor="end" fill="#0d0d0d">0.6</text>
<text x="1036.9" y="381.5" font-size="25.2" font-weight="700" text-anchor="end" fill="#0d0d0d">0.4</text>
<text x="1036.9" y="468.3" font-size="25.2" font-weight="700" text-anchor="end" fill="#0d0d0d">0.2</text>
<text x="1036.9" y="555.4" font-size="25.2" font-weight="700" text-anchor="end" fill="#0d0d0d">0.0</text>
<text x="1138.7" y="587.3" font-size="26.4" font-weight="700" text-anchor="middle" fill="#0d0d0d">Control</text>
<text x="1325" y="587.3" font-size="26.4" font-weight="700" text-anchor="middle" fill="#0d0d0d">OGD/R</text>
<text transform="translate(978.5 367.4) rotate(-90)" font-size="28.7" font-weight="700" text-anchor="middle" fill="#0d0d0d">Relative intensity</text>
<path d="M1101.6 193.4L1289.2 193.4" stroke="#0d0d0d" stroke-width="3.3"/>
<text class="s" transform="translate(1195 172) scale(0.9 1.12)" x="-30.1 -7.1 15.9" y="12.4" font-size="27">***</text>
<path d="M1287.1 246.9L1360.7 246.9" stroke="#0d0d0d" stroke-width="3.3"/>
<text class="s" transform="translate(1323.4 225.4) scale(0.9 1.12)" x="-7.1" y="12.4" font-size="27">*</text>
<path d="M1104.2 374V399.4M1092 374H1115.3M1092 399.4H1115.3" stroke="#15706f" stroke-width="1.8" fill="none"/>
<path d="M1079.7 387.7H1128.5" stroke="#15706f" stroke-width="2.5"/>
<g fill="#15706f"><circle cx="1087.5" cy="380.7" r="6.9"/><circle cx="1120.6" cy="371" r="6.9"/><circle cx="1104.2" cy="390" r="6.9"/><circle cx="1120.6" cy="389.2" r="6.9"/><circle cx="1104.2" cy="404.7" r="6.9"/></g>
<path d="M1173.7 364.3V414M1162 364.3H1185.4M1162 414H1185.4" stroke="#c6c696" stroke-width="1.8" fill="none"/>
<path d="M1148.9 388.6H1198.6" stroke="#c6c696" stroke-width="2.5"/>
<g fill="#c6c696"><rect x="1150.2" y="357" width="13.6" height="13.6"/><rect x="1183.6" y="366.6" width="13.6" height="13.6"/><rect x="1166.9" y="375.1" width="13.6" height="13.6"/><rect x="1166.9" y="397.9" width="13.6" height="13.6"/><rect x="1166.9" y="417.4" width="13.6" height="13.6"/></g>
<path d="M1289.7 279V313.2M1277.5 279H1301.7M1277.5 313.2H1301.7" stroke="#15706f" stroke-width="1.8" fill="none"/>
<path d="M1264.9 296H1314.6" stroke="#15706f" stroke-width="2.5"/>
<g fill="#15706f"><circle cx="1289.7" cy="273.8" r="6.9"/><circle cx="1289.7" cy="290.7" r="6.9"/><circle cx="1306.1" cy="289.3" r="6.9"/><circle cx="1306.1" cy="305.3" r="6.9"/><circle cx="1273.1" cy="317.9" r="6.9"/></g>
<path d="M1359.3 317.9V379.8M1347.6 317.9H1371M1347.6 379.8H1371" stroke="#c6c696" stroke-width="1.8" fill="none"/>
<path d="M1334.4 349.1H1384.1" stroke="#c6c696" stroke-width="2.5"/>
<g fill="#c6c696"><rect x="1352.5" y="306.4" width="13.6" height="13.6"/><rect x="1335.8" y="332.1" width="13.6" height="13.6"/><rect x="1369.1" y="330.7" width="13.6" height="13.6"/><rect x="1352.5" y="357" width="13.6" height="13.6"/><rect x="1352.5" y="389.1" width="13.6" height="13.6"/></g>
</g>
<g>
<text x="1716.2" y="76.5" font-size="36.8" text-anchor="middle">Cleaved-caspase1</text>
<path d="M1534.8 188.3V544H1889.8" stroke="#0d0d0d" stroke-width="3.4" fill="none" stroke-linejoin="miter"/>
<path d="M1534.8 191.4H1518.8M1534.8 262H1518.8M1534.8 332.5H1518.8M1534.8 403.2H1518.8M1534.8 473.3H1518.8M1534.8 544H1518.8M1617.8 544V560M1805.1 544V560" stroke="#0d0d0d" stroke-width="3.4" fill="none"/>
<text x="1514.8" y="200.4" font-size="25.2" font-weight="700" text-anchor="end" fill="#0d0d0d">1.0</text>
<text x="1514.8" y="271" font-size="25.2" font-weight="700" text-anchor="end" fill="#0d0d0d">0.8</text>
<text x="1514.8" y="341.5" font-size="25.2" font-weight="700" text-anchor="end" fill="#0d0d0d">0.6</text>
<text x="1514.8" y="412.2" font-size="25.2" font-weight="700" text-anchor="end" fill="#0d0d0d">0.4</text>
<text x="1514.8" y="482.3" font-size="25.2" font-weight="700" text-anchor="end" fill="#0d0d0d">0.2</text>
<text x="1514.8" y="553" font-size="25.2" font-weight="700" text-anchor="end" fill="#0d0d0d">0.0</text>
<text x="1617.8" y="585.8" font-size="26.4" font-weight="700" text-anchor="middle" fill="#0d0d0d">Control</text>
<text x="1805.1" y="585.8" font-size="26.4" font-weight="700" text-anchor="middle" fill="#0d0d0d">OGD/R</text>
<text transform="translate(1457.5 367.4) rotate(-90)" font-size="28.7" font-weight="700" text-anchor="middle" fill="#0d0d0d">Relative intensity</text>
<path d="M1575.7 196.6L1762.4 196.6" stroke="#0d0d0d" stroke-width="3.3"/>
<text class="s" transform="translate(1668.8 175.3) scale(0.9 1.12)" x="-30.1 -7.1 15.9" y="12.4" font-size="27">***</text>
<path d="M1769.2 223.5L1840.7 223.5" stroke="#0d0d0d" stroke-width="3.3"/>
<text class="s" transform="translate(1805.1 202.2) scale(0.9 1.12)" x="-18.6 4.4" y="12.4" font-size="27">**</text>
<path d="M1582.7 392.4V438.3M1571 392.4H1594.4M1571 438.3H1594.4" stroke="#15706f" stroke-width="1.8" fill="none"/>
<path d="M1557.3 415.8H1607" stroke="#15706f" stroke-width="2.5"/>
<g fill="#15706f"><circle cx="1566.1" cy="389.5" r="6.9"/><circle cx="1582.7" cy="400.3" r="6.9"/><circle cx="1599.1" cy="414.9" r="6.9"/><circle cx="1582.7" cy="427.2" r="6.9"/><circle cx="1582.7" cy="448.5" r="6.9"/></g>
<path d="M1652.9 399.7V431M1641.2 399.7H1664.6M1641.2 431H1664.6" stroke="#c6c696" stroke-width="1.8" fill="none"/>
<path d="M1628 415.5H1677.1" stroke="#c6c696" stroke-width="2.5"/>
<g fill="#c6c696"><rect x="1629.4" y="390" width="13.6" height="13.6"/><rect x="1663" y="400.8" width="13.6" height="13.6"/><rect x="1646.1" y="407.5" width="13.6" height="13.6"/><rect x="1663" y="417.4" width="13.6" height="13.6"/><rect x="1629.4" y="430.6" width="13.6" height="13.6"/></g>
<path d="M1770 276.1V345.4M1757.5 276.1H1782.3M1757.5 345.4H1782.3" stroke="#15706f" stroke-width="1.8" fill="none"/>
<path d="M1744.9 310.3H1794.9" stroke="#15706f" stroke-width="2.5"/>
<g fill="#15706f"><circle cx="1770" cy="265.3" r="6.9"/><circle cx="1753.1" cy="293.6" r="6.9"/><circle cx="1770" cy="304.4" r="6.9"/><circle cx="1770" cy="335.4" r="6.9"/><circle cx="1770" cy="354.1" r="6.9"/></g>
<path d="M1839.9 351.5V403.2M1827.6 351.5H1852.4M1827.6 403.2H1852.4" stroke="#c6c696" stroke-width="1.8" fill="none"/>
<path d="M1815 376.9H1864.7" stroke="#c6c696" stroke-width="2.5"/>
<g fill="#c6c696"><rect x="1850.6" y="340.3" width="13.6" height="13.6"/><rect x="1833.1" y="350.5" width="13.6" height="13.6"/><rect x="1850.6" y="374.5" width="13.6" height="13.6"/><rect x="1833.1" y="386.2" width="13.6" height="13.6"/><rect x="1833.1" y="402.8" width="13.6" height="13.6"/></g>
</g>
<g>
<text x="2191.7" y="76.5" font-size="36.8" text-anchor="middle">Cleaved-GSDMD</text>
<path d="M2001.7 174.5V535.6H2364.6" stroke="#0d0d0d" stroke-width="3.4" fill="none" stroke-linejoin="miter"/>
<path d="M2001.7 177.6H1985.7M2001.7 249.2H1985.7M2001.7 320.8H1985.7M2001.7 392.1H1985.7M2001.7 464H1985.7M2001.7 535.6H1985.7M2086.1 535.6V551.6M2276.9 535.6V551.6" stroke="#0d0d0d" stroke-width="3.4" fill="none"/>
<text x="1981.7" y="186.6" font-size="25.2" font-weight="700" text-anchor="end" fill="#0d0d0d">1.0</text>
<text x="1981.7" y="258.2" font-size="25.2" font-weight="700" text-anchor="end" fill="#0d0d0d">0.8</text>
<text x="1981.7" y="329.8" font-size="25.2" font-weight="700" text-anchor="end" fill="#0d0d0d">0.6</text>
<text x="1981.7" y="401.1" font-size="25.2" font-weight="700" text-anchor="end" fill="#0d0d0d">0.4</text>
<text x="1981.7" y="473" font-size="25.2" font-weight="700" text-anchor="end" fill="#0d0d0d">0.2</text>
<text x="1981.7" y="544.6" font-size="25.2" font-weight="700" text-anchor="end" fill="#0d0d0d">0.0</text>
<text x="2086.1" y="578" font-size="26.4" font-weight="700" text-anchor="middle" fill="#0d0d0d">Control</text>
<text x="2276.9" y="578" font-size="26.4" font-weight="700" text-anchor="middle" fill="#0d0d0d">OGD/R</text>
<text transform="translate(1923 359.4) rotate(-90)" font-size="28.7" font-weight="700" text-anchor="middle" fill="#0d0d0d">Relative intensity</text>
<path d="M2049 135L2238.9 135" stroke="#0d0d0d" stroke-width="3.3"/>
<text class="s" transform="translate(2144 113.4) scale(0.9 1.12)" x="-30.1 -7.1 15.9" y="12.4" font-size="27">***</text>
<path d="M2236.9 174.7L2318.4 174.7" stroke="#0d0d0d" stroke-width="3.3"/>
<text class="s" transform="translate(2277.2 152.8) scale(0.9 1.12)" x="-30.1 -7.1 15.9" y="12.4" font-size="27">***</text>
<path d="M2049.9 393.9V437.7M2037.9 393.9H2062.2M2037.9 437.7H2062.2" stroke="#15706f" stroke-width="1.8" fill="none"/>
<path d="M2025 415.8H2076.2" stroke="#15706f" stroke-width="2.5"/>
<g fill="#15706f"><circle cx="2033.5" cy="397.4" r="6.9"/><circle cx="2067.1" cy="395.9" r="6.9"/><circle cx="2049.9" cy="409" r="6.9"/><circle cx="2067.1" cy="435.3" r="6.9"/><circle cx="2033.5" cy="444.1" r="6.9"/></g>
<path d="M2121.2 382.2V435.3M2108.9 382.2H2133.7M2108.9 435.3H2133.7" stroke="#c6c696" stroke-width="1.8" fill="none"/>
<path d="M2096.3 408.5H2146.9" stroke="#c6c696" stroke-width="2.5"/>
<g fill="#c6c696"><rect x="2097.7" y="384.1" width="13.6" height="13.6"/><rect x="2132.2" y="378.3" width="13.6" height="13.6"/><rect x="2114.4" y="392.9" width="13.6" height="13.6"/><rect x="2114.4" y="413.1" width="13.6" height="13.6"/><rect x="2115.3" y="442.6" width="13.6" height="13.6"/></g>
<path d="M2241.3 225.9V287.8M2228.7 225.9H2253.5M2228.7 287.8H2253.5" stroke="#15706f" stroke-width="1.8" fill="none"/>
<path d="M2215.6 257.1H2266.1" stroke="#15706f" stroke-width="2.5"/>
<g fill="#15706f"><circle cx="2241.3" cy="216.8" r="6.9"/><circle cx="2241.3" cy="232.9" r="6.9"/><circle cx="2241.3" cy="273.2" r="6.9"/><circle cx="2258.5" cy="276.1" r="6.9"/><circle cx="2224.3" cy="286.3" r="6.9"/></g>
<path d="M2312.6 324.9V375.4M2300.3 324.9H2324.5M2300.3 375.4H2324.5" stroke="#c6c696" stroke-width="1.8" fill="none"/>
<path d="M2287.1 350H2337.4" stroke="#c6c696" stroke-width="2.5"/>
<g fill="#c6c696"><rect x="2305.8" y="321" width="13.6" height="13.6"/><rect x="2323.3" y="316.6" width="13.6" height="13.6"/><rect x="2323.3" y="348.2" width="13.6" height="13.6"/><rect x="2305.8" y="357.5" width="13.6" height="13.6"/><rect x="2305.8" y="376.5" width="13.6" height="13.6"/></g>
</g>
<g>
<text x="1250.4" y="684.9" font-size="36.8" text-anchor="middle">IL1β</text>
<path d="M1086.5 771.7V1124.6H1440" stroke="#0d0d0d" stroke-width="3.4" fill="none" stroke-linejoin="miter"/>
<path d="M1086.5 774.9H1070.5M1086.5 845H1070.5M1086.5 915.1H1070.5M1086.5 984.6H1070.5M1086.5 1054.5H1070.5M1086.5 1124.6H1070.5M1168 1124.6V1140.6M1355 1124.6V1140.6" stroke="#0d0d0d" stroke-width="3.4" fill="none"/>
<text x="1066.5" y="783.9" font-size="25.2" font-weight="700" text-anchor="end" fill="#0d0d0d">1.0</text>
<text x="1066.5" y="854" font-size="25.2" font-weight="700" text-anchor="end" fill="#0d0d0d">0.8</text>
<text x="1066.5" y="924.1" font-size="25.2" font-weight="700" text-anchor="end" fill="#0d0d0d">0.6</text>
<text x="1066.5" y="993.6" font-size="25.2" font-weight="700" text-anchor="end" fill="#0d0d0d">0.4</text>
<text x="1066.5" y="1063.5" font-size="25.2" font-weight="700" text-anchor="end" fill="#0d0d0d">0.2</text>
<text x="1066.5" y="1133.6" font-size="25.2" font-weight="700" text-anchor="end" fill="#0d0d0d">0.0</text>
<text x="1168.9" y="1165.8" font-size="26.4" font-weight="700" text-anchor="middle" fill="#0d0d0d">Control</text>
<text x="1355" y="1165.8" font-size="26.4" font-weight="700" text-anchor="middle" fill="#0d0d0d">OGD/R</text>
<text transform="translate(1006.5 951) rotate(-90)" font-size="28.7" font-weight="700" text-anchor="middle" fill="#0d0d0d">Relative intensity</text>
<path d="M1132.4 751.5L1322.3 751.5" stroke="#0d0d0d" stroke-width="3.3"/>
<text class="s" transform="translate(1227.6 730.4) scale(0.9 1.12)" x="-30.1 -7.1 15.9" y="12.4" font-size="27">***</text>
<path d="M1325.2 793L1399.7 793" stroke="#0d0d0d" stroke-width="3.3"/>
<text class="s" transform="translate(1362.6 771.9) scale(0.9 1.12)" x="-18.6 4.4" y="12.4" font-size="27">**</text>
<path d="M1134.4 980.3V1019.7M1122.2 980.3H1146.1M1122.2 1019.7H1146.1" stroke="#15706f" stroke-width="1.8" fill="none"/>
<path d="M1109 1000.4H1158.7" stroke="#15706f" stroke-width="2.5"/>
<g fill="#15706f"><circle cx="1117.8" cy="983.2" r="6.9"/><circle cx="1134.4" cy="981.7" r="6.9"/><circle cx="1150.5" cy="994.6" r="6.9"/><circle cx="1150.5" cy="1016.8" r="6.9"/><circle cx="1117.8" cy="1024.7" r="6.9"/></g>
<path d="M1203.4 967.7V1022.6M1192.3 967.7H1216.2M1192.3 1022.6H1216.2" stroke="#c6c696" stroke-width="1.8" fill="none"/>
<path d="M1179.1 994.9H1228.2" stroke="#c6c696" stroke-width="2.5"/>
<g fill="#c6c696"><rect x="1179.6" y="961.8" width="13.6" height="13.6"/><rect x="1213.2" y="966.7" width="13.6" height="13.6"/><rect x="1213.2" y="984.8" width="13.6" height="13.6"/><rect x="1196.6" y="998.9" width="13.6" height="13.6"/><rect x="1196.6" y="1030.1" width="13.6" height="13.6"/></g>
<path d="M1320 840V897.6M1307.7 840H1332.5M1307.7 897.6H1332.5" stroke="#15706f" stroke-width="1.8" fill="none"/>
<path d="M1295.1 868.9H1345.1" stroke="#15706f" stroke-width="2.5"/>
<g fill="#15706f"><circle cx="1303.3" cy="837.7" r="6.9"/><circle cx="1336.9" cy="842.6" r="6.9"/><circle cx="1336.9" cy="876.2" r="6.9"/><circle cx="1320" cy="883.8" r="6.9"/><circle cx="1320" cy="903.4" r="6.9"/></g>
<path d="M1390.1 905.5V975.9M1377.8 905.5H1402.1M1377.8 975.9H1402.1" stroke="#c6c696" stroke-width="1.8" fill="none"/>
<path d="M1365.3 940.8H1414.3" stroke="#c6c696" stroke-width="2.5"/>
<g fill="#c6c696"><rect x="1383.3" y="881.1" width="13.6" height="13.6"/><rect x="1383.3" y="931.7" width="13.6" height="13.6"/><rect x="1400.2" y="933.1" width="13.6" height="13.6"/><rect x="1383.3" y="946.3" width="13.6" height="13.6"/><rect x="1383.3" y="977" width="13.6" height="13.6"/></g>
</g>
<g>
<text x="1857.7" y="684.9" font-size="36.8" text-anchor="middle">IL18</text>
<path d="M1687 757.5V1123.1H2051.9" stroke="#0d0d0d" stroke-width="3.7" fill="none" stroke-linejoin="miter"/>
<path d="M1687 761.1H1670.5M1687 833.3H1670.5M1687 905.5H1670.5M1687 977.3H1670.5M1687 1050.1H1670.5M1687 1123.1H1670.5M1771.4 1123.1V1139.6M1965.1 1123.1V1139.6" stroke="#0d0d0d" stroke-width="3.7" fill="none"/>
<text x="1666.5" y="770.5" font-size="26.2" font-weight="700" text-anchor="end" fill="#0d0d0d">1.0</text>
<text x="1666.5" y="842.7" font-size="26.2" font-weight="700" text-anchor="end" fill="#0d0d0d">0.8</text>
<text x="1666.5" y="914.9" font-size="26.2" font-weight="700" text-anchor="end" fill="#0d0d0d">0.6</text>
<text x="1666.5" y="986.7" font-size="26.2" font-weight="700" text-anchor="end" fill="#0d0d0d">0.4</text>
<text x="1666.5" y="1059.5" font-size="26.2" font-weight="700" text-anchor="end" fill="#0d0d0d">0.2</text>
<text x="1666.5" y="1132.5" font-size="26.2" font-weight="700" text-anchor="end" fill="#0d0d0d">0.0</text>
<text x="1771.4" y="1165.8" font-size="27.4" font-weight="700" text-anchor="middle" fill="#0d0d0d">Control</text>
<text x="1964.1" y="1165.8" font-size="27.4" font-weight="700" text-anchor="middle" fill="#0d0d0d">OGD/R</text>
<text transform="translate(1575 941.7) rotate(-90)" font-size="29.8" font-weight="700" text-anchor="middle" fill="#0d0d0d">Relative intensity</text>
<path d="M1726.1 730.2L1922.7 730.2" stroke="#0d0d0d" stroke-width="3.4"/>
<text class="s" transform="translate(1824.9 708.2) scale(0.927 1.154)" x="-30.1 -7.1 16" y="12.4" font-size="27">***</text>
<path d="M1923.3 771.1L2001.6 771.1" stroke="#0d0d0d" stroke-width="3.4"/>
<text class="s" transform="translate(1961.5 748.6) scale(0.927 1.154)" x="-18.6 4.5" y="12.4" font-size="27">**</text>
<path d="M1735.8 986.7V1036.3M1723.2 986.7H1748M1723.2 1036.3H1748" stroke="#15706f" stroke-width="1.9" fill="none"/>
<path d="M1709.5 1011.5H1760.6" stroke="#15706f" stroke-width="2.6"/>
<g fill="#15706f"><circle cx="1718.2" cy="984.3" r="7.1"/><circle cx="1735.8" cy="995.4" r="7.1"/><circle cx="1752.7" cy="1008.6" r="7.1"/><circle cx="1735.8" cy="1023.2" r="7.1"/><circle cx="1735.8" cy="1048.6" r="7.1"/></g>
<path d="M1807.3 980.3V1008M1794.8 980.3H1819.9M1794.8 1008H1819.9" stroke="#c6c696" stroke-width="1.9" fill="none"/>
<path d="M1782.5 994H1833.1" stroke="#c6c696" stroke-width="2.6"/>
<g fill="#c6c696"><rect x="1783.7" y="967.4" width="14" height="14"/><rect x="1817.3" y="981.1" width="14" height="14"/><rect x="1800.3" y="988.4" width="14" height="14"/><rect x="1783.7" y="1003" width="14" height="14"/><rect x="1817.3" y="1000.1" width="14" height="14"/></g>
<path d="M1928 803.5V852.9M1915.4 803.5H1940.3M1915.4 852.9H1940.3" stroke="#15706f" stroke-width="1.9" fill="none"/>
<path d="M1903.2 828.3H1953.4" stroke="#15706f" stroke-width="2.6"/>
<g fill="#15706f"><circle cx="1928" cy="799.1" r="7.1"/><circle cx="1928" cy="820.1" r="7.1"/><circle cx="1910.5" cy="826.6" r="7.1"/><circle cx="1945.5" cy="831" r="7.1"/><circle cx="1928" cy="866.3" r="7.1"/></g>
<path d="M2000.8 855.8V921.5M1988.5 855.8H2012.7M1988.5 921.5H2012.7" stroke="#c6c696" stroke-width="1.9" fill="none"/>
<path d="M1975.3 888.8H2025.6" stroke="#c6c696" stroke-width="2.6"/>
<g fill="#c6c696"><rect x="1993.8" y="827.7" width="14" height="14"/><rect x="1976.2" y="883.3" width="14" height="14"/><rect x="2010.7" y="886.8" width="14" height="14"/><rect x="1993.8" y="895.5" width="14" height="14"/><rect x="1993.8" y="916" width="14" height="14"/></g>
</g>
<g>
<text x="342" y="1459.7" font-size="36.8" text-anchor="middle">NLRP3</text>
<path d="M122.8 1582.5V1930.3H469.9" stroke="#0d0d0d" stroke-width="2.9" fill="none" stroke-linejoin="miter"/>
<path d="M122.8 1585.5H106.8M122.8 1654.5H106.8M122.8 1723.5H106.8M122.8 1792.4H106.8M122.8 1861.3H106.8M122.8 1930.3H106.8M202.9 1930.3V1945.3M386.8 1930.3V1945.3" stroke="#0d0d0d" stroke-width="2.9" fill="none"/>
<text x="102.8" y="1594.3" font-size="24.5" font-weight="700" text-anchor="end" fill="#0d0d0d">5</text>
<text x="102.8" y="1663.3" font-size="24.5" font-weight="700" text-anchor="end" fill="#0d0d0d">4</text>
<text x="102.8" y="1732.3" font-size="24.5" font-weight="700" text-anchor="end" fill="#0d0d0d">3</text>
<text x="102.8" y="1801.2" font-size="24.5" font-weight="700" text-anchor="end" fill="#0d0d0d">2</text>
<text x="102.8" y="1870.1" font-size="24.5" font-weight="700" text-anchor="end" fill="#0d0d0d">1</text>
<text x="102.8" y="1939.1" font-size="24.5" font-weight="700" text-anchor="end" fill="#0d0d0d">0</text>
<text x="215.8" y="1972" font-size="36.5" text-anchor="middle" fill="#0d0d0d">Control</text>
<text x="403.7" y="1972" font-size="36.5" text-anchor="middle" fill="#0d0d0d">OGD/R</text>
<text transform="translate(72 1721.5) rotate(-90)" font-size="35.8" text-anchor="middle" fill="#0d0d0d">mRNA Relative Expression</text>
<path d="M168.6 1560.4L352.9 1560.4" stroke="#0d0d0d" stroke-width="3.2"/>
<text class="s" transform="translate(260 1540.1) scale(0.9 1.12)" x="-29.8 -7.1 15.7" y="12.4" font-size="27">***</text>
<path d="M355.6 1581.8L424.1 1581.8" stroke="#0d0d0d" stroke-width="3.2"/>
<text class="s" transform="translate(389.7 1561.4) scale(0.9 1.12)" x="-18.4 4.3" y="12.4" font-size="27">**</text>
<g fill="#15706f"><circle cx="151" cy="1861.5" r="6.6"/><circle cx="159.5" cy="1861.5" r="6.6"/><circle cx="168.6" cy="1861.5" r="6.6"/><circle cx="177.1" cy="1861.5" r="6.6"/><circle cx="185.6" cy="1861.5" r="6.6"/></g>
<g fill="#c6c696"><rect x="214" y="1855" width="13" height="13"/><rect x="222.5" y="1855" width="13" height="13"/><rect x="231" y="1855" width="13" height="13"/><rect x="239.5" y="1855" width="13" height="13"/><rect x="248" y="1855" width="13" height="13"/></g>
<path d="M352.9 1610.6V1664.3M341 1610.6H364.8M341 1664.3H364.8" stroke="#15706f" stroke-width="1.7" fill="none"/>
<path d="M327.4 1637.8H377.3" stroke="#15706f" stroke-width="2.4"/>
<g fill="#15706f"><circle cx="335.9" cy="1614" r="6.6"/><circle cx="369.2" cy="1610.6" r="6.6"/><circle cx="352.9" cy="1634.4" r="6.6"/><circle cx="352.9" cy="1655.8" r="6.6"/><circle cx="352.9" cy="1674.1" r="6.6"/></g>
<path d="M422.4 1691.4V1755.5M409.9 1691.4H434.3M409.9 1755.5H434.3" stroke="#c6c696" stroke-width="1.7" fill="none"/>
<path d="M397.7 1723.6H446.9" stroke="#c6c696" stroke-width="2.4"/>
<g fill="#c6c696"><rect x="415.9" y="1674.4" width="13" height="13"/><rect x="415.9" y="1694.7" width="13" height="13"/><rect x="415.9" y="1726.3" width="13" height="13"/><rect x="399" y="1745.6" width="13" height="13"/><rect x="431.2" y="1743.9" width="13" height="13"/></g>
</g>
<g>
<text x="751" y="1459.7" font-size="36.8" text-anchor="middle">IL1β</text>
<path d="M584.2 1573.5V1929.6H940.4" stroke="#0d0d0d" stroke-width="2.9" fill="none" stroke-linejoin="miter"/>
<path d="M584.2 1576.7H568.2M584.2 1664.9H568.2M584.2 1753.2H568.2M584.2 1841.4H568.2M584.2 1929.6H568.2M664.9 1929.6V1944.6M854.3 1929.6V1944.6" stroke="#0d0d0d" stroke-width="2.9" fill="none"/>
<text x="564.2" y="1585.5" font-size="24.5" font-weight="700" text-anchor="end" fill="#0d0d0d">4</text>
<text x="564.2" y="1673.7" font-size="24.5" font-weight="700" text-anchor="end" fill="#0d0d0d">3</text>
<text x="564.2" y="1762" font-size="24.5" font-weight="700" text-anchor="end" fill="#0d0d0d">2</text>
<text x="564.2" y="1850.2" font-size="24.5" font-weight="700" text-anchor="end" fill="#0d0d0d">1</text>
<text x="564.2" y="1938.4" font-size="24.5" font-weight="700" text-anchor="end" fill="#0d0d0d">0</text>
<text x="677.3" y="1972.6" font-size="36.5" text-anchor="middle" fill="#0d0d0d">Control</text>
<text x="870.2" y="1972.6" font-size="36.5" text-anchor="middle" fill="#0d0d0d">OGD/R</text>
<text transform="translate(532 1721.5) rotate(-90)" font-size="35.8" text-anchor="middle" fill="#0d0d0d">mRNA Relative Expression</text>
<path d="M621.5 1558L819.3 1558" stroke="#0d0d0d" stroke-width="3.2"/>
<text class="s" transform="translate(720.9 1536.7) scale(0.9 1.12)" x="-29.8 -7.1 15.7" y="12.4" font-size="27">***</text>
<path d="M816.9 1586.2L900.7 1586.2" stroke="#0d0d0d" stroke-width="3.2"/>
<text class="s" transform="translate(858.9 1564.8) scale(0.9 1.12)" x="-18.4 4.3" y="12.4" font-size="27">**</text>
<g fill="#15706f"><circle cx="612.3" cy="1842" r="6.6"/><circle cx="621.2" cy="1842" r="6.6"/><circle cx="630" cy="1842" r="6.6"/><circle cx="638.8" cy="1842" r="6.6"/><circle cx="647.3" cy="1842" r="6.6"/></g>
<g fill="#c6c696"><rect x="678.8" y="1835.5" width="13" height="13"/><rect x="687.3" y="1835.5" width="13" height="13"/><rect x="695.4" y="1835.5" width="13" height="13"/><rect x="703.5" y="1835.5" width="13" height="13"/><rect x="711.7" y="1835.5" width="13" height="13"/></g>
<path d="M820 1636.8V1703.3M807.4 1636.8H832.9M807.4 1703.3H832.9" stroke="#15706f" stroke-width="1.7" fill="none"/>
<path d="M794.5 1669.3H844.8" stroke="#15706f" stroke-width="2.4"/>
<g fill="#15706f"><circle cx="820" cy="1626.9" r="6.6"/><circle cx="820" cy="1649.7" r="6.6"/><circle cx="820" cy="1666" r="6.6"/><circle cx="836.3" cy="1695.5" r="6.6"/><circle cx="820" cy="1710.7" r="6.6"/></g>
<path d="M890.6 1766.7V1816.9M878 1766.7H902.4M878 1816.9H902.4" stroke="#c6c696" stroke-width="1.7" fill="none"/>
<path d="M865.1 1791.5H915" stroke="#c6c696" stroke-width="2.4"/>
<g fill="#c6c696"><rect x="884.1" y="1744.3" width="13" height="13"/><rect x="900.3" y="1779.9" width="13" height="13"/><rect x="884.1" y="1791.4" width="13" height="13"/><rect x="900.3" y="1801.6" width="13" height="13"/><rect x="867.1" y="1807" width="13" height="13"/></g>
</g>
<g>
<text x="1204.3" y="1459.7" font-size="36.8" text-anchor="middle">IL18</text>
<path d="M1077.7 1580.3V1939.8H1436.4" stroke="#0d0d0d" stroke-width="2.9" fill="none" stroke-linejoin="miter"/>
<path d="M1077.7 1583.5H1061.7M1077.7 1654.8H1061.7M1077.7 1726H1061.7M1077.7 1797.3H1061.7M1077.7 1868.5H1061.7M1077.7 1939.8H1061.7M1159.8 1939.8V1954.8M1349.8 1939.8V1954.8" stroke="#0d0d0d" stroke-width="2.9" fill="none"/>
<text x="1057.7" y="1592.3" font-size="24.5" font-weight="700" text-anchor="end" fill="#0d0d0d">5</text>
<text x="1057.7" y="1663.6" font-size="24.5" font-weight="700" text-anchor="end" fill="#0d0d0d">4</text>
<text x="1057.7" y="1734.8" font-size="24.5" font-weight="700" text-anchor="end" fill="#0d0d0d">3</text>
<text x="1057.7" y="1806.1" font-size="24.5" font-weight="700" text-anchor="end" fill="#0d0d0d">2</text>
<text x="1057.7" y="1877.3" font-size="24.5" font-weight="700" text-anchor="end" fill="#0d0d0d">1</text>
<text x="1057.7" y="1948.6" font-size="24.5" font-weight="700" text-anchor="end" fill="#0d0d0d">0</text>
<text x="1171.7" y="1981.5" font-size="36.5" text-anchor="middle" fill="#0d0d0d">Control</text>
<text x="1365.1" y="1981.5" font-size="36.5" text-anchor="middle" fill="#0d0d0d">OGD/R</text>
<text transform="translate(1023.5 1731) rotate(-90)" font-size="35.9" text-anchor="middle" fill="#0d0d0d">mRNA Relative Expression</text>
<path d="M1124.2 1577.7L1314.2 1577.7" stroke="#0d0d0d" stroke-width="3.2"/>
<text class="s" transform="translate(1218.9 1555.3) scale(0.9 1.12)" x="-29.8 -7.1 15.7" y="12.4" font-size="27">***</text>
<path d="M1311.8 1617.4L1384.4 1617.4" stroke="#0d0d0d" stroke-width="3.2"/>
<text class="s" transform="translate(1347.5 1595.4) scale(0.9 1.12)" x="-29.8 -7.1 15.7" y="12.4" font-size="27">***</text>
<g fill="#15706f"><circle cx="1106.2" cy="1869.2" r="6.6"/><circle cx="1115" cy="1869.2" r="6.6"/><circle cx="1123.9" cy="1869.2" r="6.6"/><circle cx="1132.7" cy="1869.2" r="6.6"/><circle cx="1141.5" cy="1869.2" r="6.6"/></g>
<g fill="#c6c696"><rect x="1172" y="1862.7" width="13" height="13"/><rect x="1180.5" y="1862.7" width="13" height="13"/><rect x="1189.3" y="1862.7" width="13" height="13"/><rect x="1198.1" y="1862.7" width="13" height="13"/><rect x="1206.9" y="1862.7" width="13" height="13"/></g>
<path d="M1314.9 1662.2V1716.8M1302.3 1662.2H1326.8M1302.3 1716.8H1326.8" stroke="#15706f" stroke-width="1.7" fill="none"/>
<path d="M1288.8 1690.4H1339.7" stroke="#15706f" stroke-width="2.4"/>
<g fill="#15706f"><circle cx="1314.9" cy="1656.4" r="6.6"/><circle cx="1297.9" cy="1674.4" r="6.6"/><circle cx="1314.9" cy="1682.6" r="6.6"/><circle cx="1331.2" cy="1712.4" r="6.6"/><circle cx="1297.9" cy="1724.3" r="6.6"/></g>
<path d="M1385.5 1750.8V1805.7M1372.9 1750.8H1398M1372.9 1805.7H1398" stroke="#c6c696" stroke-width="1.7" fill="none"/>
<path d="M1360.7 1777.9H1410.9" stroke="#c6c696" stroke-width="2.4"/>
<g fill="#c6c696"><rect x="1379" y="1732.4" width="13" height="13"/><rect x="1395.9" y="1759.5" width="13" height="13"/><rect x="1379" y="1773.1" width="13" height="13"/><rect x="1395.9" y="1791.4" width="13" height="13"/><rect x="1362.7" y="1801.6" width="13" height="13"/></g>
</g>
<g>
<text x="1275.8" y="2248.9" font-size="36.5" text-anchor="middle">P-JAK2</text>
<path d="M1077.3 2442.3V2875.9H1505.9" stroke="#0d0d0d" stroke-width="4.3" fill="none" stroke-linejoin="miter"/>
<path d="M1077.3 2446.1H1057.7M1077.3 2531.8H1057.7M1077.3 2617.1H1057.7M1077.3 2702.8H1057.7M1077.3 2789.4H1057.7M1077.3 2875.9H1057.7M1175.7 2875.9V2894.9M1402.5 2875.9V2894.9" stroke="#0d0d0d" stroke-width="3.3" fill="none"/>
<text x="1052.7" y="2457.4" font-size="31.5" font-weight="700" text-anchor="end" fill="#0d0d0d">1.0</text>
<text x="1052.7" y="2543.1" font-size="31.5" font-weight="700" text-anchor="end" fill="#0d0d0d">0.8</text>
<text x="1052.7" y="2628.4" font-size="31.5" font-weight="700" text-anchor="end" fill="#0d0d0d">0.6</text>
<text x="1052.7" y="2714.1" font-size="31.5" font-weight="700" text-anchor="end" fill="#0d0d0d">0.4</text>
<text x="1052.7" y="2800.7" font-size="31.5" font-weight="700" text-anchor="end" fill="#0d0d0d">0.2</text>
<text x="1052.7" y="2887.2" font-size="31.5" font-weight="700" text-anchor="end" fill="#0d0d0d">0.0</text>
<text x="1177.6" y="2927.9" font-size="36.4" text-anchor="middle" fill="#0d0d0d">Control</text>
<text x="1409.5" y="2927.9" font-size="36.4" text-anchor="middle" fill="#0d0d0d">OGD/R</text>
<text transform="translate(985 2671.5) rotate(-90)" font-size="37.3" text-anchor="middle" fill="#0d0d0d">Relative intensity</text>
<path d="M1133.1 2387L1360.2 2387" stroke="#0d0d0d" stroke-width="4.2"/>
<text class="s" transform="translate(1246.2 2360.8) scale(1.08 1.344)" x="-29.7 -7.1 15.6" y="12.4" font-size="27">***</text>
<path d="M1357.3 2457.9L1452.3 2457.9" stroke="#0d0d0d" stroke-width="4.2"/>
<text class="s" transform="translate(1405.4 2431.7) scale(1.08 1.344)" x="-18.4 4.3" y="12.4" font-size="27">**</text>
<path d="M1134.3 2709.1V2758.5M1118.7 2709.1H1149.1M1118.7 2758.5H1149.1" stroke="#15706f" stroke-width="2.2" fill="none"/>
<path d="M1104 2734.5H1163.9" stroke="#15706f" stroke-width="3.4"/>
<g fill="#15706f"><circle cx="1114.5" cy="2713.4" r="9.4"/><circle cx="1154.2" cy="2713.4" r="9.4"/><circle cx="1134.3" cy="2730.2" r="9.4"/><circle cx="1134.3" cy="2746.3" r="9.4"/><circle cx="1134.3" cy="2772.5" r="9.4"/></g>
<path d="M1219.6 2724.8V2753.5M1204.9 2724.8H1233.6M1204.9 2753.5H1233.6" stroke="#c6c696" stroke-width="2.2" fill="none"/>
<path d="M1189.2 2734.5H1248.3" stroke="#c6c696" stroke-width="3.4"/>
<g fill="#c6c696"><rect x="1210.6" y="2714.9" width="18" height="18"/><rect x="1190" y="2723.4" width="18" height="18"/><rect x="1230.9" y="2728.9" width="18" height="18"/><rect x="1210.6" y="2733.9" width="18" height="18"/><rect x="1210.6" y="2752.1" width="18" height="18"/></g>
<path d="M1360.2 2509.4V2569.8M1344.2 2509.4H1375M1344.2 2569.8H1375" stroke="#15706f" stroke-width="2.2" fill="none"/>
<path d="M1329.8 2539.4H1389.8" stroke="#15706f" stroke-width="3.4"/>
<g fill="#15706f"><circle cx="1360.2" cy="2493.8" r="9.4"/><circle cx="1360.2" cy="2538.1" r="9.4"/><circle cx="1380.1" cy="2533.9" r="9.4"/><circle cx="1339.1" cy="2569.8" r="9.4"/><circle cx="1380.1" cy="2563.5" r="9.4"/></g>
<path d="M1446 2584.6V2642.8M1431.2 2584.6H1460.7M1431.2 2642.8H1460.7" stroke="#c6c696" stroke-width="2.2" fill="none"/>
<path d="M1416 2614.1H1475.1" stroke="#c6c696" stroke-width="3.4"/>
<g fill="#c6c696"><rect x="1437" y="2569.2" width="18" height="18"/><rect x="1437" y="2591.6" width="18" height="18"/><rect x="1416.7" y="2603.9" width="18" height="18"/><rect x="1456.8" y="2610.6" width="18" height="18"/><rect x="1437" y="2647.4" width="18" height="18"/></g>
</g>
<g>
<text x="1890.3" y="2249.1" font-size="36.5" text-anchor="middle">P-STAT3</text>
<path d="M1703.9 2427.3V2866.2H2137" stroke="#0d0d0d" stroke-width="4.3" fill="none" stroke-linejoin="miter"/>
<path d="M1703.9 2430.6H1684.3M1703.9 2538.8H1684.3M1703.9 2647.1H1684.3M1703.9 2756.4H1684.3M1703.9 2866.2H1684.3M1802.9 2866.2V2885.2M2032.3 2866.2V2885.2" stroke="#0d0d0d" stroke-width="3.3" fill="none"/>
<text x="1679.3" y="2441.9" font-size="31.5" font-weight="700" text-anchor="end" fill="#0d0d0d">0.8</text>
<text x="1679.3" y="2550.1" font-size="31.5" font-weight="700" text-anchor="end" fill="#0d0d0d">0.6</text>
<text x="1679.3" y="2658.4" font-size="31.5" font-weight="700" text-anchor="end" fill="#0d0d0d">0.4</text>
<text x="1679.3" y="2767.7" font-size="31.5" font-weight="700" text-anchor="end" fill="#0d0d0d">0.2</text>
<text x="1679.3" y="2877.5" font-size="31.5" font-weight="700" text-anchor="end" fill="#0d0d0d">0.0</text>
<text x="1804.2" y="2917.8" font-size="36.4" text-anchor="middle" fill="#0d0d0d">Control</text>
<text x="2039.3" y="2917.8" font-size="36.4" text-anchor="middle" fill="#0d0d0d">OGD/R</text>
<text transform="translate(1606 2657.4) rotate(-90)" font-size="36.6" text-anchor="middle" fill="#0d0d0d">Relative intensity</text>
<path d="M1759.1 2368.7L1983.4 2368.7" stroke="#0d0d0d" stroke-width="4.2"/>
<text class="s" transform="translate(1871.7 2341.9) scale(1.08 1.344)" x="-29.7 -7.1 15.6" y="12.4" font-size="27">***</text>
<path d="M1984.4 2424.4L2077.7 2424.4" stroke="#0d0d0d" stroke-width="4.2"/>
<text class="s" transform="translate(2031 2397.1) scale(1.08 1.344)" x="-18.4 4.3" y="12.4" font-size="27">**</text>
<path d="M1760.7 2665.1V2735.8M1745.2 2665.1H1776.1M1745.2 2735.8H1776.1" stroke="#15706f" stroke-width="2.2" fill="none"/>
<path d="M1730.8 2700.2H1791.1" stroke="#15706f" stroke-width="3.4"/>
<g fill="#15706f"><circle cx="1760.7" cy="2661.5" r="9.4"/><circle cx="1740" cy="2680.6" r="9.4"/><circle cx="1760.7" cy="2693.5" r="9.4"/><circle cx="1760.7" cy="2710.5" r="9.4"/><circle cx="1760.7" cy="2754.3" r="9.4"/></g>
<path d="M1846.7 2660V2698.7M1831.3 2660H1862.2M1831.3 2698.7H1862.2" stroke="#c6c696" stroke-width="2.2" fill="none"/>
<path d="M1816.8 2679.6H1876.7" stroke="#c6c696" stroke-width="3.4"/>
<g fill="#c6c696"><rect x="1817.1" y="2644.8" width="18" height="18"/><rect x="1858.4" y="2660.3" width="18" height="18"/><rect x="1837.7" y="2668" width="18" height="18"/><rect x="1858.4" y="2683.5" width="18" height="18"/><rect x="1817.1" y="2698.4" width="18" height="18"/></g>
<path d="M1991.1 2479.5V2527.5M1975.6 2479.5H2006.6M1975.6 2527.5H2006.6" stroke="#15706f" stroke-width="2.2" fill="none"/>
<path d="M1960.2 2503.8H2020.5" stroke="#15706f" stroke-width="3.4"/>
<g fill="#15706f"><circle cx="1991.1" cy="2474.4" r="9.4"/><circle cx="1969.4" cy="2494" r="9.4"/><circle cx="2011.7" cy="2502.7" r="9.4"/><circle cx="1991.1" cy="2506.9" r="9.4"/><circle cx="1991.1" cy="2540.4" r="9.4"/></g>
<path d="M2077.2 2566.2V2614.6M2061.7 2566.2H2091.6M2061.7 2614.6H2091.6" stroke="#c6c696" stroke-width="2.2" fill="none"/>
<path d="M2046.3 2590.4H2107.1" stroke="#c6c696" stroke-width="3.4"/>
<g fill="#c6c696"><rect x="2068.2" y="2545.3" width="18" height="18"/><rect x="2046.5" y="2572.1" width="18" height="18"/><rect x="2087.8" y="2582.9" width="18" height="18"/><rect x="2068.2" y="2591.7" width="18" height="18"/><rect x="2068.2" y="2610.8" width="18" height="18"/></g>
</g>
<circle cx="2093.7" cy="738.3" r="7.6" fill="#15706f"/>
<rect x="2086.4" y="780.7" width="14.6" height="14.6" fill="#c6c696"/>
<text x="2133.7" y="748.6" font-size="30.3" fill="#15706f">NC-siRNA</text>
<text x="2133.7" y="798.2" font-size="30.3" fill="#15706f">Notch1-siRNA</text>
<circle cx="1290.2" cy="1448.5" r="7.5" fill="#15706f"/>
<rect x="1283.2" y="1490" width="14" height="14" fill="#c6c696"/>
<text x="1329.6" y="1458.6" font-size="29.8" fill="#15706f">NC-siRNA</text>
<text x="1329.6" y="1507.2" font-size="29.8" fill="#15706f">Notch1-siRNA</text>
<circle cx="2116.4" cy="2320.8" r="9.8" fill="#15706f"/>
<rect x="2107.4" y="2369" width="18" height="18" fill="#c6c696"/>
<text x="2163.5" y="2332.6" font-size="36.2" fill="#15706f">NC-siRNA</text>
<text x="2163.5" y="2390.9" font-size="36.2" fill="#15706f">Notch1-siRNA</text>
<path d="M1957.7 1389.4L1982.2 1511.5M2024 1382.5L1982.2 1511.5M1905.1 1409.5L1982.2 1511.5M2006.4 1430.9L1982.2 1511.5M2074.8 1419.9L1982.2 1511.5M1862.3 1446.8L1982.2 1511.5M1944.9 1449.6L1982.2 1511.5M2040.6 1468.9L1982.2 1511.5M2040.6 1468.9L2172.1 1743.2M2089.3 1460.3L1982.2 1511.5M2089.3 1460.3L2172.1 1743.2M1840.8 1492.4L1982.2 1511.5M1903.4 1487.3L1982.2 1511.5M2128.4 1491.4L1982.2 1511.5M2128.4 1491.4L2172.1 1743.2M1868.1 1525.6L1982.2 1511.5M1914.1 1540.8L1982.2 1511.5M2039.2 1528.7L1982.2 1511.5M2039.2 1528.7L2172.1 1743.2M2101.4 1537.4L1982.2 1511.5M2101.4 1537.4L2172.1 1743.2M1854 1566.1L1982.2 1511.5M1854 1566.1L2172.1 1743.2M2009.8 1566.1L1982.2 1511.5M2009.8 1566.1L2172.1 1743.2M2062.4 1571.9L1982.2 1511.5M2062.4 1571.9L2172.1 1743.2M2178.5 1557.4L1982.2 1511.5M2178.5 1557.4L2172.1 1743.2M1929.3 1585.8L1982.2 1511.5M1929.3 1585.8L2172.1 1743.2M1972.9 1586.5L1982.2 1511.5M1972.9 1586.5L2172.1 1743.2M1972.9 1586.5L1701.2 1769.5M2100.7 1587.5L1982.2 1511.5M2100.7 1587.5L2172.1 1743.2M2144.6 1579.5L1982.2 1511.5M2144.6 1579.5L2172.1 1743.2M2198.9 1593.7L1982.2 1511.5M2198.9 1593.7L2172.1 1743.2M2248.3 1590.3L1982.2 1511.5M2248.3 1590.3L2172.1 1743.2M2300.2 1594.1L2172.1 1743.2M2045.4 1610.6L1982.2 1511.5M2045.4 1610.6L2172.1 1743.2M2045.4 1610.6L1701.2 1769.5M1836.2 1631.2L1982.2 1511.5M1836.2 1631.2L2172.1 1743.2M1836.2 1631.2L1701.2 1769.5M1892.2 1632.8L1982.2 1511.5M1892.2 1632.8L2172.1 1743.2M1892.2 1632.8L1701.2 1769.5M1947.8 1633.4L1982.2 1511.5M1947.8 1633.4L2172.1 1743.2M1947.8 1633.4L1701.2 1769.5M2007.4 1629.7L1982.2 1511.5M2007.4 1629.7L2172.1 1743.2M2007.4 1629.7L1701.2 1769.5M2113.5 1630L2172.1 1743.2M2113.5 1630L1701.2 1769.5M2166.1 1624.8L2172.1 1743.2M2166.1 1624.8L1701.2 1769.5M2230.4 1638.6L2172.1 1743.2M2278.7 1645.6L2172.1 1743.2M2333 1636.6L2172.1 1743.2M2057.2 1660.2L1982.2 1511.5M2057.2 1660.2L2172.1 1743.2M2057.2 1660.2L1701.2 1769.5M2251.2 1686.6L1982.2 1511.5M2251.2 1686.6L2172.1 1743.2M2330.2 1678.8L2172.1 1743.2M2000.8 1703.7L2172.1 1743.2M2000.8 1703.7L1701.2 1769.5M2343.2 1726.9L2172.1 1743.2M2287.7 1756.5L2172.1 1743.2M2287.7 1756.5L1701.2 1769.5M2362.9 1770.7L2172.1 1743.2M1981 1770.8L2172.1 1743.2M1981 1770.8L1701.2 1769.5M2295.7 1801.2L2172.1 1743.2M2295.7 1801.2L1701.2 1769.5M2352.1 1813.8L2172.1 1743.2M2248.2 1811.7L2172.1 1743.2M2248.2 1811.7L1701.2 1769.5M2025.6 1816L2172.1 1743.2M2025.6 1816L1701.2 1769.5M2203.6 1840.9L2172.1 1743.2M2203.6 1840.9L1701.2 1769.5M2091.7 1849.6L2172.1 1743.2M2091.7 1849.6L1701.2 1769.5M2140.4 1849.3L2172.1 1743.2M2140.4 1849.3L1701.2 1769.5M1921 1853.5L2172.1 1743.2M1921 1853.5L1701.2 1769.5M2313.9 1871.1L2172.1 1743.2M1970.9 1872.4L2172.1 1743.2M1970.9 1872.4L1701.2 1769.5M2034.9 1874.5L2172.1 1743.2M2034.9 1874.5L1701.2 1769.5M2233.8 1877L2172.1 1743.2M2233.8 1877L1701.2 1769.5M2280 1893.6L2172.1 1743.2M2087.4 1901L2172.1 1743.2M2087.4 1901L1701.2 1769.5M2190.6 1905L2172.1 1743.2M2190.6 1905L1701.2 1769.5M2042.2 1919.5L2172.1 1743.2M2042.2 1919.5L1701.2 1769.5M2166.9 1940.5L2172.1 1743.2M2166.9 1940.5L1701.2 1769.5M2248.2 1940.5L2172.1 1743.2M2100.3 1949.7L2172.1 1743.2M2100.3 1949.7L1701.2 1769.5M1657 1601.5L1701.2 1769.5M1657 1601.5L2172.1 1743.2M1716.8 1604.9L1701.2 1769.5M1716.8 1604.9L2172.1 1743.2M1606.9 1631.5L1701.2 1769.5M1606.9 1631.5L2172.1 1743.2M1678.4 1649.9L1701.2 1769.5M1678.4 1649.9L2172.1 1743.2M1562 1651.2L1701.2 1769.5M1562 1651.2L2172.1 1743.2M1632.8 1671.3L1701.2 1769.5M1632.8 1671.3L2172.1 1743.2M1748.6 1667.1L1701.2 1769.5M1748.6 1667.1L2172.1 1743.2M1531.5 1694.1L1701.2 1769.5M1592.4 1702.4L1701.2 1769.5M1592.4 1702.4L2172.1 1743.2M1592.4 1702.4L1982.2 1511.5M1822.9 1702.7L1701.2 1769.5M1822.9 1702.7L2172.1 1743.2M1494.6 1749.1L1701.2 1769.5M1569.9 1744.6L1701.2 1769.5M1569.9 1744.6L2172.1 1743.2M1817.7 1770.5L1701.2 1769.5M1817.7 1770.5L2172.1 1743.2M1555.7 1788.5L1701.2 1769.5M1555.7 1788.5L2172.1 1743.2M1504.9 1812.3L1701.2 1769.5M1504.9 1812.3L2172.1 1743.2M1585.1 1828.2L1701.2 1769.5M1585.1 1828.2L2172.1 1743.2M1779.7 1818.5L1701.2 1769.5M1779.7 1818.5L2172.1 1743.2M1831.6 1816.5L1701.2 1769.5M1831.6 1816.5L2172.1 1743.2M1518.1 1869.3L1701.2 1769.5M1518.1 1869.3L2172.1 1743.2M1614.8 1861L1701.2 1769.5M1614.8 1861L2172.1 1743.2M1659.8 1870.7L1701.2 1769.5M1659.8 1870.7L2172.1 1743.2M1730.3 1857.2L1701.2 1769.5M1730.3 1857.2L2172.1 1743.2M1785.6 1864.2L1701.2 1769.5M1785.6 1864.2L2172.1 1743.2M1857.5 1858.6L1701.2 1769.5M1857.5 1858.6L2172.1 1743.2M1703.3 1896L1701.2 1769.5M1703.3 1896L2172.1 1743.2M1754.5 1911.5L1701.2 1769.5M1754.5 1911.5L2172.1 1743.2M1823.3 1906L1701.2 1769.5M1823.3 1906L2172.1 1743.2M1541.6 1921.5L1701.2 1769.5M1541.6 1921.5L2172.1 1743.2M1606.9 1935.7L1701.2 1769.5M1606.9 1935.7L2172.1 1743.2M1680.2 1939.2L1701.2 1769.5M1680.2 1939.2L2172.1 1743.2M1982.2 1511.5L2172.1 1743.2M1701.2 1769.5L2172.1 1743.2M1982.2 1511.5L1701.2 1769.5M2040.6 1468.9L2074.8 1419.9M2040.6 1468.9L2089.3 1460.3M2128.4 1491.4L2101.4 1537.4M2009.8 1566.1L2062.4 1571.9M2045.4 1610.6L2057.2 1660.2M1972.9 1586.5L1947.8 1633.4M1840.8 1492.4L1903.4 1487.3M2091.7 1849.6L2140.4 1849.3M1857.5 1858.6L1921 1853.5M2233.8 1877L2248.2 1940.5M1562 1651.2L1632.8 1671.3M1659.8 1870.7L1606.9 1935.7M1703.3 1896L1680.2 1939.2M2087.4 1901L2166.9 1940.5M2034.9 1874.5L2190.6 1905M2278.7 1645.6L2251.2 1686.6M2300.2 1594.1L2278.7 1645.6M2113.5 1630L2166.1 1624.8M2091.7 1849.6L2087.4 1901M2034.9 1874.5L2042.2 1919.5M2203.6 1840.9L2233.8 1877M2190.6 1905L2140.4 1849.3" stroke="#333" stroke-opacity=".7" stroke-width="1" fill="none"/>
<g fill="#fff" stroke="#56c2c9" stroke-width="1.8"><circle cx="1957.7" cy="1389.4" r="19.9"/><circle cx="2024" cy="1382.5" r="19.9"/><circle cx="1905.1" cy="1409.5" r="19.9"/><circle cx="2006.4" cy="1430.9" r="19.9"/><circle cx="2074.8" cy="1419.9" r="19.9"/><circle cx="1862.3" cy="1446.8" r="19.9"/><circle cx="1944.9" cy="1449.6" r="19.9"/><circle cx="2040.6" cy="1468.9" r="19.9"/><circle cx="2089.3" cy="1460.3" r="19.9"/><circle cx="1840.8" cy="1492.4" r="19.9"/><circle cx="1903.4" cy="1487.3" r="19.9"/><circle cx="2128.4" cy="1491.4" r="19.9"/><circle cx="1868.1" cy="1525.6" r="19.9"/><circle cx="1914.1" cy="1540.8" r="19.9"/><circle cx="2039.2" cy="1528.7" r="19.9"/><circle cx="2101.4" cy="1537.4" r="19.9"/><circle cx="1854" cy="1566.1" r="19.9"/><circle cx="2009.8" cy="1566.1" r="19.9"/><circle cx="2062.4" cy="1571.9" r="19.9"/><circle cx="2178.5" cy="1557.4" r="19.9"/><circle cx="1929.3" cy="1585.8" r="19.9"/><circle cx="1972.9" cy="1586.5" r="19.9"/><circle cx="2100.7" cy="1587.5" r="19.9"/><circle cx="2144.6" cy="1579.5" r="19.9"/><circle cx="2198.9" cy="1593.7" r="19.9"/><circle cx="2248.3" cy="1590.3" r="19.9"/><circle cx="2300.2" cy="1594.1" r="19.9"/><circle cx="2045.4" cy="1610.6" r="19.9"/><circle cx="1836.2" cy="1631.2" r="19.9"/><circle cx="1892.2" cy="1632.8" r="19.9"/><circle cx="1947.8" cy="1633.4" r="19.9"/><circle cx="2007.4" cy="1629.7" r="19.9"/><circle cx="2113.5" cy="1630" r="19.9"/><circle cx="2166.1" cy="1624.8" r="19.9"/><circle cx="2230.4" cy="1638.6" r="19.9"/><circle cx="2278.7" cy="1645.6" r="19.9"/><circle cx="2333" cy="1636.6" r="19.9"/><circle cx="2057.2" cy="1660.2" r="19.9"/><circle cx="2251.2" cy="1686.6" r="19.9"/><circle cx="2330.2" cy="1678.8" r="19.9"/><circle cx="2000.8" cy="1703.7" r="19.9"/><circle cx="2343.2" cy="1726.9" r="19.9"/><circle cx="2287.7" cy="1756.5" r="19.9"/><circle cx="2362.9" cy="1770.7" r="19.9"/><circle cx="1981" cy="1770.8" r="19.9"/><circle cx="2295.7" cy="1801.2" r="19.9"/><circle cx="2352.1" cy="1813.8" r="19.9"/><circle cx="2248.2" cy="1811.7" r="19.9"/><circle cx="2025.6" cy="1816" r="19.9"/><circle cx="2203.6" cy="1840.9" r="19.9"/><circle cx="2091.7" cy="1849.6" r="19.9"/><circle cx="2140.4" cy="1849.3" r="19.9"/><circle cx="1921" cy="1853.5" r="19.9"/><circle cx="2313.9" cy="1871.1" r="19.9"/><circle cx="1970.9" cy="1872.4" r="19.9"/><circle cx="2034.9" cy="1874.5" r="19.9"/><circle cx="2233.8" cy="1877" r="19.9"/><circle cx="2280" cy="1893.6" r="19.9"/><circle cx="2087.4" cy="1901" r="19.9"/><circle cx="2190.6" cy="1905" r="19.9"/><circle cx="2042.2" cy="1919.5" r="19.9"/><circle cx="2166.9" cy="1940.5" r="19.9"/><circle cx="2248.2" cy="1940.5" r="19.9"/><circle cx="2100.3" cy="1949.7" r="19.9"/><circle cx="1657" cy="1601.5" r="19.9"/><circle cx="1716.8" cy="1604.9" r="19.9"/><circle cx="1606.9" cy="1631.5" r="19.9"/><circle cx="1678.4" cy="1649.9" r="19.9"/><circle cx="1562" cy="1651.2" r="19.9"/><circle cx="1632.8" cy="1671.3" r="19.9"/><circle cx="1748.6" cy="1667.1" r="19.9"/><circle cx="1531.5" cy="1694.1" r="19.9"/><circle cx="1592.4" cy="1702.4" r="19.9"/><circle cx="1822.9" cy="1702.7" r="19.9"/><circle cx="1494.6" cy="1749.1" r="19.9"/><circle cx="1569.9" cy="1744.6" r="19.9"/><circle cx="1817.7" cy="1770.5" r="19.9"/><circle cx="1555.7" cy="1788.5" r="19.9"/><circle cx="1504.9" cy="1812.3" r="19.9"/><circle cx="1585.1" cy="1828.2" r="19.9"/><circle cx="1779.7" cy="1818.5" r="19.9"/><circle cx="1831.6" cy="1816.5" r="19.9"/><circle cx="1518.1" cy="1869.3" r="19.9"/><circle cx="1614.8" cy="1861" r="19.9"/><circle cx="1659.8" cy="1870.7" r="19.9"/><circle cx="1730.3" cy="1857.2" r="19.9"/><circle cx="1785.6" cy="1864.2" r="19.9"/><circle cx="1857.5" cy="1858.6" r="19.9"/><circle cx="1703.3" cy="1896" r="19.9"/><circle cx="1754.5" cy="1911.5" r="19.9"/><circle cx="1823.3" cy="1906" r="19.9"/><circle cx="1541.6" cy="1921.5" r="19.9"/><circle cx="1606.9" cy="1935.7" r="19.9"/><circle cx="1680.2" cy="1939.2" r="19.9"/></g>
<g fill="#5bbfd0"><circle cx="1982.2" cy="1511.5" r="20.8"/><circle cx="1701.2" cy="1769.5" r="20.8"/><circle cx="2172.1" cy="1743.2" r="20.8"/></g>
<g font-size="14.7" text-anchor="middle" fill="#151515">
<text x="1982.2" y="1516.6">Notch1</text>
<text x="1701.2" y="1774.6">Jak2</text>
<text x="2172.1" y="1748.3">Stat3</text>
<text x="1957.7" y="1394.5">Numb</text>
<text x="2024" y="1387.6">Aph1c</text>
<text x="1905.1" y="1414.6">Psen1</text>
<text x="2006.4" y="1436">Aph1b</text>
<text x="2074.8" y="1425">Psenen</text>
<text x="1862.3" y="1451.9">Cul1</text>
<text x="1944.9" y="1454.7">Psen2</text>
<text x="2040.6" y="1474">Hey1</text>
<text x="2089.3" y="1465.4">Foxo3</text>
<text x="1840.8" y="1497.5">Maml1</text>
<text x="1903.4" y="1492.4">Ncstn</text>
<text x="2128.4" y="1496.5">Myod1</text>
<text x="1868.1" y="1530.7">Aph1a</text>
<text x="1914.1" y="1545.9">Notch3</text>
<text x="2039.2" y="1533.8">Jag1</text>
<text x="2101.4" y="1542.5">Smad3</text>
<text x="1854" y="1571.2">Rbpj</text>
<text x="2009.8" y="1571.2">Hdac2</text>
<text x="2062.4" y="1577">Trp53</text>
<text x="2178.5" y="1562.5">Hdac1</text>
<text x="1929.3" y="1590.9">Ncor2</text>
<text x="1972.9" y="1591.6">Myc</text>
<text x="2100.7" y="1592.6">Mdm2</text>
<text x="2144.6" y="1584.6">Fbxw7</text>
<text x="2198.9" y="1598.8">Ikbkb</text>
<text x="2248.3" y="1595.4">Notch2</text>
<text x="2300.2" y="1599.2">Sall4</text>
<text x="2045.4" y="1615.7">Creb1</text>
<text x="1836.2" y="1636.3">Rela</text>
<text x="1892.2" y="1637.9">Ep300</text>
<text x="1947.8" y="1638.5">Hif1a</text>
<text x="2007.4" y="1634.8">Ctnnb1</text>
<text x="2113.5" y="1635.1">Gab2</text>
<text x="2166.1" y="1629.9">Irs1</text>
<text x="2230.4" y="1643.7">Ncoa1</text>
<text x="2278.7" y="1650.7">Chuk</text>
<text x="2333" y="1641.7">Pou5f1</text>
<text x="2057.2" y="1665.3">App</text>
<text x="2251.2" y="1691.7">Nfkb1</text>
<text x="2330.2" y="1683.9">Irf3</text>
<text x="2000.8" y="1708.8">Ifngr1</text>
<text x="2343.2" y="1732">Traf6</text>
<text x="2287.7" y="1761.6">Ifngr2</text>
<text x="2362.9" y="1775.8">Sp1</text>
<text x="1981" y="1775.9">Kras</text>
<text x="2295.7" y="1806.3">Ifng</text>
<text x="2352.1" y="1818.9">Myb</text>
<text x="2248.2" y="1816.8">Il10rb</text>
<text x="2025.6" y="1821.1">Pparg</text>
<text x="2203.6" y="1846">Jak3</text>
<text x="2091.7" y="1854.7">Lep</text>
<text x="2140.4" y="1854.4">Prlr</text>
<text x="1921" y="1858.6">Epas1</text>
<text x="2313.9" y="1876.2">Areg</text>
<text x="1970.9" y="1877.5">Igf1r</text>
<text x="2034.9" y="1879.6">Lepr</text>
<text x="2233.8" y="1882.1">Pias3</text>
<text x="2280" y="1898.7">Ncoa3</text>
<text x="2087.4" y="1906.1">Ctla4</text>
<text x="2190.6" y="1910.1">Socs1</text>
<text x="2042.2" y="1924.6">Hbegf</text>
<text x="2166.9" y="1945.6">Stat1</text>
<text x="2248.2" y="1945.6">Nanog</text>
<text x="2100.3" y="1954.8">Epo</text>
<text x="1657" y="1606.6">Egf</text>
<text x="1716.8" y="1610">Pik3r1</text>
<text x="1606.9" y="1636.6">Jak1</text>
<text x="1678.4" y="1655">Nfkbia</text>
<text x="1562" y="1656.3">Ptpn11</text>
<text x="1632.8" y="1676.4">Pecam1</text>
<text x="1748.6" y="1672.2">Tyk2</text>
<text x="1531.5" y="1699.2">Sh2b1</text>
<text x="1592.4" y="1707.5">Crebbp</text>
<text x="1822.9" y="1707.8">Cbl</text>
<text x="1494.6" y="1754.2">Sirpa</text>
<text x="1569.9" y="1749.7">Epor</text>
<text x="1817.7" y="1775.6">Pias1</text>
<text x="1555.7" y="1793.6">Gab1</text>
<text x="1504.9" y="1817.4">Src</text>
<text x="1585.1" y="1833.3">Grb2</text>
<text x="1779.7" y="1823.6">Egfr</text>
<text x="1831.6" y="1821.6">Stat5b</text>
<text x="1518.1" y="1874.4">Socs3</text>
<text x="1614.8" y="1866.1">Erbb4</text>
<text x="1659.8" y="1875.8">Pdcd1</text>
<text x="1730.3" y="1862.3">Ifnar1</text>
<text x="1785.6" y="1869.3">Pdgfrb</text>
<text x="1857.5" y="1863.7">Il10ra</text>
<text x="1703.3" y="1901.1">Irf9</text>
<text x="1754.5" y="1916.6">Insr</text>
<text x="1823.3" y="1911.1">Il10</text>
<text x="1541.6" y="1926.6">Pik3ca</text>
<text x="1606.9" y="1940.8">Nfkbib</text>
<text x="1680.2" y="1944.3">Stat5a</text>
</g>
<text x="482.2" y="2166.6" font-size="37.4" text-anchor="middle">Control</text>
<path d="M413.2 2177L548.5 2177" stroke="#3e3a39" stroke-width="2.8"/>
<text x="670.8" y="2166.6" font-size="37.4" text-anchor="middle">OGD/R</text>
<path d="M609.2 2177L744 2177" stroke="#3e3a39" stroke-width="2.8"/>
<text transform="translate(311.5 2381) rotate(-45)" font-size="37.4">NC-siRNA</text>
<text transform="translate(394.5 2381) rotate(-45)" font-size="37.4">Notch1-siRNA</text>
<text transform="translate(488.5 2381) rotate(-45)" font-size="37.4">NC-siRNA</text>
<text transform="translate(581.5 2381) rotate(-45)" font-size="37.4">Notch1-siRNA</text>
<g clip-path="url(#bc7)">
<rect x="295.8" y="2391.9" width="366.1" height="93.6" fill="#e6e6e6"/>
<rect x="295.8" y="2391.9" width="366.1" height="93.6" fill="url(#vig)" opacity="0.375"/>
<rect x="306" y="2371.9" width="80" height="133.6" fill="#000" opacity="0.1" filter="url(#bl2)"/>
<rect x="397" y="2371.9" width="70" height="133.6" fill="#000" opacity="0.1" filter="url(#bl2)"/>
<rect x="480" y="2371.9" width="72" height="133.6" fill="#000" opacity="0.1" filter="url(#bl2)"/>
<rect x="564" y="2371.9" width="76" height="133.6" fill="#000" opacity="0.1" filter="url(#bl2)"/>
<rect x="295.8" y="2391.9" width="366.1" height="93.6" filter="url(#nz)" opacity="0.11"/>
<rect x="295.8" y="2391.9" width="366.1" height="93.6" filter="url(#nz2)" opacity="0.15"/>
<g fill="#1a1a1a" opacity="0.3" filter="url(#bl3)"><path d="M308 2446.5L311 2437.5L314 2436L316.9 2435.4L319.9 2435.1L322.9 2435L325.9 2435L328.9 2435L331.8 2435L334.8 2435L337.8 2435L340.8 2435L343.8 2435L346.8 2435L349.7 2435L352.7 2435L355.7 2435L358.7 2435L361.7 2435L364.6 2435L367.6 2435L370.6 2435L373.6 2435.1L376.6 2435.4L379.5 2436L382.5 2437.5L385.5 2446.5L385.5 2446.5L382.5 2455.5L379.5 2457L376.6 2457.6L373.6 2457.9L370.6 2458L367.6 2458L364.6 2458L361.7 2458L358.7 2458L355.7 2458L352.7 2458L349.7 2458L346.8 2458L343.8 2458L340.8 2458L337.8 2458L334.8 2458L331.8 2458L328.9 2458L325.9 2458L322.9 2458L319.9 2457.9L316.9 2457.6L314 2457L311 2455.5L308 2446.5Z"/></g><g fill="#060606" filter="url(#bl4)"><path d="M308 2446.5L311 2437.5L314 2436L316.9 2435.4L319.9 2435.1L322.9 2435L325.9 2435L328.9 2435L331.8 2435L334.8 2435L337.8 2435L340.8 2435L343.8 2435L346.8 2435L349.7 2435L352.7 2435L355.7 2435L358.7 2435L361.7 2435L364.6 2435L367.6 2435L370.6 2435L373.6 2435.1L376.6 2435.4L379.5 2436L382.5 2437.5L385.5 2446.5L385.5 2446.5L382.5 2455.5L379.5 2457L376.6 2457.6L373.6 2457.9L370.6 2458L367.6 2458L364.6 2458L361.7 2458L358.7 2458L355.7 2458L352.7 2458L349.7 2458L346.8 2458L343.8 2458L340.8 2458L337.8 2458L334.8 2458L331.8 2458L328.9 2458L325.9 2458L322.9 2458L319.9 2457.9L316.9 2457.6L314 2457L311 2455.5L308 2446.5Z"/></g>
<g fill="#1a1a1a" opacity="0.3" filter="url(#bl3)"><path d="M400 2447.2L402.5 2440.2L404.9 2438.9L407.4 2438.3L409.8 2438L412.3 2437.8L414.8 2437.7L417.2 2437.6L419.7 2437.5L422.2 2437.4L424.6 2437.3L427.1 2437.3L429.5 2437.3L432 2437.2L434.5 2437.3L436.9 2437.3L439.4 2437.3L441.8 2437.4L444.3 2437.5L446.8 2437.6L449.2 2437.7L451.7 2437.8L454.2 2438L456.6 2438.3L459.1 2438.9L461.5 2440.2L464 2447.2L464 2447.2L461.5 2453.9L459.1 2454.7L456.6 2455L454.2 2454.9L451.7 2454.8L449.2 2454.7L446.8 2454.6L444.3 2454.5L441.8 2454.4L439.4 2454.3L436.9 2454.3L434.5 2454.3L432 2454.2L429.5 2454.3L427.1 2454.3L424.6 2454.3L422.2 2454.4L419.7 2454.5L417.2 2454.6L414.8 2454.7L412.3 2454.8L409.8 2454.9L407.4 2455L404.9 2454.7L402.5 2453.9L400 2447.2Z"/></g><g fill="#060606" filter="url(#bl4)"><path d="M400 2447.2L402.5 2440.2L404.9 2438.9L407.4 2438.3L409.8 2438L412.3 2437.8L414.8 2437.7L417.2 2437.6L419.7 2437.5L422.2 2437.4L424.6 2437.3L427.1 2437.3L429.5 2437.3L432 2437.2L434.5 2437.3L436.9 2437.3L439.4 2437.3L441.8 2437.4L444.3 2437.5L446.8 2437.6L449.2 2437.7L451.7 2437.8L454.2 2438L456.6 2438.3L459.1 2438.9L461.5 2440.2L464 2447.2L464 2447.2L461.5 2453.9L459.1 2454.7L456.6 2455L454.2 2454.9L451.7 2454.8L449.2 2454.7L446.8 2454.6L444.3 2454.5L441.8 2454.4L439.4 2454.3L436.9 2454.3L434.5 2454.3L432 2454.2L429.5 2454.3L427.1 2454.3L424.6 2454.3L422.2 2454.4L419.7 2454.5L417.2 2454.6L414.8 2454.7L412.3 2454.8L409.8 2454.9L407.4 2455L404.9 2454.7L402.5 2453.9L400 2447.2Z"/></g>
<g fill="#1a1a1a" opacity="0.3" filter="url(#bl3)"><path d="M483 2447.5L485.5 2439.8L488.1 2438.7L490.6 2438.2L493.2 2438L495.7 2438.1L498.2 2438.2L500.8 2438.3L503.3 2438.4L505.8 2438.5L508.4 2438.7L510.9 2438.8L513.5 2438.9L516 2439L518.5 2439.1L521.1 2439.2L523.6 2439.3L526.2 2439.5L528.7 2439.6L531.2 2439.7L533.8 2439.8L536.3 2439.9L538.8 2440.1L541.4 2440.5L543.9 2441.2L546.5 2442.6L549 2450.5L549 2450.5L546.5 2458.2L543.9 2459.3L541.4 2459.8L538.8 2460L536.3 2459.9L533.8 2459.8L531.2 2459.7L528.7 2459.6L526.2 2459.5L523.6 2459.3L521.1 2459.2L518.5 2459.1L516 2459L513.5 2458.9L510.9 2458.8L508.4 2458.7L505.8 2458.5L503.3 2458.4L500.8 2458.3L498.2 2458.2L495.7 2458.1L493.2 2457.9L490.6 2457.5L488.1 2456.8L485.5 2455.4L483 2447.5Z"/></g><g fill="#060606" filter="url(#bl4)"><path d="M483 2447.5L485.5 2439.8L488.1 2438.7L490.6 2438.2L493.2 2438L495.7 2438.1L498.2 2438.2L500.8 2438.3L503.3 2438.4L505.8 2438.5L508.4 2438.7L510.9 2438.8L513.5 2438.9L516 2439L518.5 2439.1L521.1 2439.2L523.6 2439.3L526.2 2439.5L528.7 2439.6L531.2 2439.7L533.8 2439.8L536.3 2439.9L538.8 2440.1L541.4 2440.5L543.9 2441.2L546.5 2442.6L549 2450.5L549 2450.5L546.5 2458.2L543.9 2459.3L541.4 2459.8L538.8 2460L536.3 2459.9L533.8 2459.8L531.2 2459.7L528.7 2459.6L526.2 2459.5L523.6 2459.3L521.1 2459.2L518.5 2459.1L516 2459L513.5 2458.9L510.9 2458.8L508.4 2458.7L505.8 2458.5L503.3 2458.4L500.8 2458.3L498.2 2458.2L495.7 2458.1L493.2 2457.9L490.6 2457.5L488.1 2456.8L485.5 2455.4L483 2447.5Z"/></g>
<g fill="#1a1a1a" opacity="0.3" filter="url(#bl3)"><path d="M567.4 2450L570.1 2442L572.8 2440.8L575.5 2440.4L578.2 2440.3L580.9 2440.5L583.6 2440.7L586.3 2440.8L589 2441L591.7 2441.2L594.4 2441.4L597.1 2441.6L599.8 2441.8L602.5 2442L605.3 2442.2L608 2442.4L610.7 2442.6L613.4 2442.8L616.1 2443L618.8 2443.2L621.5 2443.3L624.2 2443.5L626.9 2443.8L629.6 2444.3L632.3 2445.1L635 2446.6L637.7 2455L637.7 2455L635 2463L632.3 2464.2L629.6 2464.6L626.9 2464.7L624.2 2464.5L621.5 2464.3L618.8 2464.2L616.1 2464L613.4 2463.8L610.7 2463.6L608 2463.4L605.3 2463.2L602.5 2463L599.8 2462.8L597.1 2462.6L594.4 2462.4L591.7 2462.2L589 2462L586.3 2461.8L583.6 2461.7L580.9 2461.5L578.2 2461.2L575.5 2460.7L572.8 2459.9L570.1 2458.4L567.4 2450Z"/></g><g fill="#060606" filter="url(#bl4)"><path d="M567.4 2450L570.1 2442L572.8 2440.8L575.5 2440.4L578.2 2440.3L580.9 2440.5L583.6 2440.7L586.3 2440.8L589 2441L591.7 2441.2L594.4 2441.4L597.1 2441.6L599.8 2441.8L602.5 2442L605.3 2442.2L608 2442.4L610.7 2442.6L613.4 2442.8L616.1 2443L618.8 2443.2L621.5 2443.3L624.2 2443.5L626.9 2443.8L629.6 2444.3L632.3 2445.1L635 2446.6L637.7 2455L637.7 2455L635 2463L632.3 2464.2L629.6 2464.6L626.9 2464.7L624.2 2464.5L621.5 2464.3L618.8 2464.2L616.1 2464L613.4 2463.8L610.7 2463.6L608 2463.4L605.3 2463.2L602.5 2463L599.8 2462.8L597.1 2462.6L594.4 2462.4L591.7 2462.2L589 2462L586.3 2461.8L583.6 2461.7L580.9 2461.5L578.2 2461.2L575.5 2460.7L572.8 2459.9L570.1 2458.4L567.4 2450Z"/></g>
<g fill="#777" opacity="0.5" filter="url(#bl5)"><path d="M312 2474.8L314.6 2471.2L317.2 2471L319.8 2471L322.5 2471L325.1 2471L327.7 2471L330.3 2471L332.9 2471L335.5 2471L338.2 2471L340.8 2471L343.4 2471L346 2471L348.6 2471L351.2 2471L353.8 2471L356.5 2471L359.1 2471L361.7 2471L364.3 2471L366.9 2471L369.5 2471L372.2 2471L374.8 2471L377.4 2471.2L380 2474.8L380 2474.8L377.4 2478.3L374.8 2478.5L372.2 2478.5L369.5 2478.5L366.9 2478.5L364.3 2478.5L361.7 2478.5L359.1 2478.5L356.5 2478.5L353.8 2478.5L351.2 2478.5L348.6 2478.5L346 2478.5L343.4 2478.5L340.8 2478.5L338.2 2478.5L335.5 2478.5L332.9 2478.5L330.3 2478.5L327.7 2478.5L325.1 2478.5L322.5 2478.5L319.8 2478.5L317.2 2478.5L314.6 2478.3L312 2474.8Z"/></g>
<g fill="#777" opacity="0.35" filter="url(#bl5)"><path d="M400 2475L402.3 2472.1L404.6 2472L406.9 2472L409.2 2472L411.5 2472L413.8 2472L416.2 2472L418.5 2472L420.8 2472L423.1 2472L425.4 2472L427.7 2472L430 2472L432.3 2472L434.6 2472L436.9 2472L439.2 2472L441.5 2472L443.8 2472L446.2 2472L448.5 2472L450.8 2472L453.1 2472L455.4 2472L457.7 2472.1L460 2475L460 2475L457.7 2477.9L455.4 2478L453.1 2478L450.8 2478L448.5 2478L446.2 2478L443.8 2478L441.5 2478L439.2 2478L436.9 2478L434.6 2478L432.3 2478L430 2478L427.7 2478L425.4 2478L423.1 2478L420.8 2478L418.5 2478L416.2 2478L413.8 2478L411.5 2478L409.2 2478L406.9 2478L404.6 2478L402.3 2477.9L400 2475Z"/></g>
<g fill="#777" opacity="0.35" filter="url(#bl5)"><path d="M485 2476L487.3 2473.1L489.6 2473L491.9 2473L494.2 2473L496.5 2473L498.8 2473L501.2 2473L503.5 2473L505.8 2473L508.1 2473L510.4 2473L512.7 2473L515 2473L517.3 2473L519.6 2473L521.9 2473L524.2 2473L526.5 2473L528.8 2473L531.2 2473L533.5 2473L535.8 2473L538.1 2473L540.4 2473L542.7 2473.1L545 2476L545 2476L542.7 2478.9L540.4 2479L538.1 2479L535.8 2479L533.5 2479L531.2 2479L528.8 2479L526.5 2479L524.2 2479L521.9 2479L519.6 2479L517.3 2479L515 2479L512.7 2479L510.4 2479L508.1 2479L505.8 2479L503.5 2479L501.2 2479L498.8 2479L496.5 2479L494.2 2479L491.9 2479L489.6 2479L487.3 2478.9L485 2476Z"/></g>
<g fill="#777" opacity="0.35" filter="url(#bl5)"><path d="M570 2477L572.5 2474.1L575 2474L577.5 2474L580 2474L582.5 2474L585 2474L587.5 2474L590 2474L592.5 2474L595 2474L597.5 2474L600 2474L602.5 2474L605 2474L607.5 2474L610 2474L612.5 2474L615 2474L617.5 2474L620 2474L622.5 2474L625 2474L627.5 2474L630 2474L632.5 2474.1L635 2477L635 2477L632.5 2479.9L630 2480L627.5 2480L625 2480L622.5 2480L620 2480L617.5 2480L615 2480L612.5 2480L610 2480L607.5 2480L605 2480L602.5 2480L600 2480L597.5 2480L595 2480L592.5 2480L590 2480L587.5 2480L585 2480L582.5 2480L580 2480L577.5 2480L575 2480L572.5 2479.9L570 2477Z"/></g>
<ellipse cx="660" cy="2430" rx="4" ry="9" fill="#111" opacity="0.5" filter="url(#bl5)"/>
</g>
<rect x="295.8" y="2391.9" width="366.1" height="93.6" fill="none" stroke="#454242" stroke-width="2.1"/>
<g clip-path="url(#bc8)">
<rect x="291.9" y="2500.6" width="365.2" height="94.6" fill="#dcdcdc"/>
<rect x="291.9" y="2500.6" width="365.2" height="94.6" fill="url(#vig)" opacity="0.5"/>
<rect x="291.9" y="2500.6" width="365.2" height="94.6" filter="url(#nz)" opacity="0.121"/>
<rect x="291.9" y="2500.6" width="365.2" height="94.6" filter="url(#nz2)" opacity="0.165"/>
<g fill="#777" opacity="0.45" filter="url(#bl6)"><path d="M312 2551L313.8 2548.2L315.6 2548L317.4 2548L319.2 2548L321 2548L322.8 2548L324.6 2548L326.4 2548L328.2 2548L330 2548L331.8 2548L333.6 2548L335.4 2548L337.1 2548L338.9 2548L340.7 2548L342.5 2548L344.3 2548L346.1 2548L347.9 2548L349.7 2548L351.5 2548L353.3 2548L355.1 2548L356.9 2548.2L358.7 2551L358.7 2551L356.9 2553.8L355.1 2554L353.3 2554L351.5 2554L349.7 2554L347.9 2554L346.1 2554L344.3 2554L342.5 2554L340.7 2554L338.9 2554L337.1 2554L335.4 2554L333.6 2554L331.8 2554L330 2554L328.2 2554L326.4 2554L324.6 2554L322.8 2554L321 2554L319.2 2554L317.4 2554L315.6 2554L313.8 2553.8L312 2551Z"/></g>
<g fill="#777" opacity="0.4" filter="url(#bl6)"><path d="M395.8 2549L397.2 2546.3L398.7 2546L400.1 2546L401.5 2546L402.9 2546L404.4 2546L405.8 2546L407.2 2546L408.6 2546L410.1 2546L411.5 2546L412.9 2546L414.4 2546L415.8 2546L417.2 2546L418.6 2546L420.1 2546L421.5 2546L422.9 2546L424.3 2546L425.8 2546L427.2 2546L428.6 2546L430 2546L431.5 2546.3L432.9 2549L432.9 2549L431.5 2551.7L430 2552L428.6 2552L427.2 2552L425.8 2552L424.3 2552L422.9 2552L421.5 2552L420.1 2552L418.6 2552L417.2 2552L415.8 2552L414.4 2552L412.9 2552L411.5 2552L410.1 2552L408.6 2552L407.2 2552L405.8 2552L404.4 2552L402.9 2552L401.5 2552L400.1 2552L398.7 2552L397.2 2551.7L395.8 2549Z"/></g>
<g fill="#505050" opacity="0.75" filter="url(#bl7)"><path d="M483 2548.3L485.3 2543.3L487.7 2542.7L490 2542.6L492.4 2542.6L494.7 2542.6L497.1 2542.6L499.4 2542.6L501.8 2542.6L504.1 2542.6L506.5 2542.6L508.8 2542.6L511.2 2542.6L513.5 2542.6L515.8 2542.6L518.2 2542.6L520.5 2542.6L522.9 2542.6L525.2 2542.6L527.6 2542.6L529.9 2542.6L532.3 2542.6L534.6 2542.6L537 2542.6L539.3 2542.7L541.7 2543.3L544 2548.3L544 2548.3L541.7 2553.3L539.3 2553.9L537 2554L534.6 2554L532.3 2554L529.9 2554L527.6 2554L525.2 2554L522.9 2554L520.5 2554L518.2 2554L515.8 2554L513.5 2554L511.2 2554L508.8 2554L506.5 2554L504.1 2554L501.8 2554L499.4 2554L497.1 2554L494.7 2554L492.4 2554L490 2554L487.7 2553.9L485.3 2553.3L483 2548.3Z"/></g>
<g fill="#505050" opacity="0.65" filter="url(#bl4)"><path d="M570 2548.5L572.5 2544.8L575 2544.6L577.4 2544.5L579.9 2544.4L582.4 2544.3L584.9 2544.2L587.4 2544.1L589.8 2544L592.3 2543.9L594.8 2543.8L597.3 2543.7L599.8 2543.6L602.2 2543.5L604.7 2543.4L607.2 2543.3L609.7 2543.2L612.2 2543.1L614.7 2543L617.1 2542.9L619.6 2542.8L622.1 2542.7L624.6 2542.6L627.1 2542.5L629.5 2542.4L632 2542.5L634.5 2546L634.5 2546L632 2549.7L629.5 2549.9L627.1 2550L624.6 2550.1L622.1 2550.2L619.6 2550.3L617.1 2550.4L614.7 2550.5L612.2 2550.6L609.7 2550.7L607.2 2550.8L604.7 2550.9L602.2 2551L599.8 2551.1L597.3 2551.2L594.8 2551.3L592.3 2551.4L589.8 2551.5L587.4 2551.6L584.9 2551.7L582.4 2551.8L579.9 2551.9L577.4 2552L575 2552.1L572.5 2552L570 2548.5Z"/></g>
</g>
<rect x="291.9" y="2500.6" width="365.2" height="94.6" fill="none" stroke="#454242" stroke-width="2.1"/>
<g clip-path="url(#bc9)">
<rect x="295.8" y="2611.3" width="366.1" height="96.4" fill="#9a9a9a"/>
<rect x="295.8" y="2611.3" width="366.1" height="96.4" fill="url(#vig)" opacity="1"/>
<rect x="310" y="2591.3" width="74" height="136.4" fill="#000" opacity="0.1" filter="url(#bl2)"/>
<rect x="399" y="2591.3" width="70" height="136.4" fill="#000" opacity="0.1" filter="url(#bl2)"/>
<rect x="484" y="2591.3" width="70" height="136.4" fill="#000" opacity="0.1" filter="url(#bl2)"/>
<rect x="570" y="2591.3" width="70" height="136.4" fill="#000" opacity="0.1" filter="url(#bl2)"/>
<rect x="295.8" y="2611.3" width="366.1" height="96.4" filter="url(#nz)" opacity="0.176"/>
<rect x="295.8" y="2611.3" width="366.1" height="96.4" filter="url(#nz2)" opacity="0.24"/>
<g fill="#1a1a1a" opacity="0.3" filter="url(#bl8)"><path d="M318.4 2659.2L320.6 2652.8L322.9 2651.7L325.1 2651.1L327.3 2650.9L329.6 2650.8L331.8 2650.7L334 2650.6L336.3 2650.5L338.5 2650.4L340.7 2650.3L343 2650.2L345.2 2650.1L347.4 2650L349.7 2649.9L351.9 2649.8L354.2 2649.7L356.4 2649.6L358.6 2649.5L360.9 2649.4L363.1 2649.3L365.3 2649.2L367.6 2649.2L369.8 2649.2L372 2649.6L374.3 2650.5L376.5 2656.8L376.5 2656.8L374.3 2663.2L372 2664.3L369.8 2664.9L367.6 2665.1L365.3 2665.2L363.1 2665.3L360.9 2665.4L358.6 2665.5L356.4 2665.6L354.2 2665.7L351.9 2665.8L349.7 2665.9L347.4 2666L345.2 2666.1L343 2666.2L340.7 2666.3L338.5 2666.4L336.3 2666.5L334 2666.6L331.8 2666.7L329.6 2666.8L327.3 2666.8L325.1 2666.8L322.9 2666.4L320.6 2665.5L318.4 2659.2Z"/></g><g fill="#0b0b0b" opacity="0.93" filter="url(#bl9)"><path d="M318.4 2659.2L320.6 2652.8L322.9 2651.7L325.1 2651.1L327.3 2650.9L329.6 2650.8L331.8 2650.7L334 2650.6L336.3 2650.5L338.5 2650.4L340.7 2650.3L343 2650.2L345.2 2650.1L347.4 2650L349.7 2649.9L351.9 2649.8L354.2 2649.7L356.4 2649.6L358.6 2649.5L360.9 2649.4L363.1 2649.3L365.3 2649.2L367.6 2649.2L369.8 2649.2L372 2649.6L374.3 2650.5L376.5 2656.8L376.5 2656.8L374.3 2663.2L372 2664.3L369.8 2664.9L367.6 2665.1L365.3 2665.2L363.1 2665.3L360.9 2665.4L358.6 2665.5L356.4 2665.6L354.2 2665.7L351.9 2665.8L349.7 2665.9L347.4 2666L345.2 2666.1L343 2666.2L340.7 2666.3L338.5 2666.4L336.3 2666.5L334 2666.6L331.8 2666.7L329.6 2666.8L327.3 2666.8L325.1 2666.8L322.9 2666.4L320.6 2665.5L318.4 2659.2Z"/></g>
<g fill="#1a1a1a" opacity="0.3" filter="url(#bl8)"><path d="M405.5 2656.8L407.7 2649.9L410 2648.8L412.2 2648.3L414.4 2648.1L416.7 2648L418.9 2648L421.1 2648L423.3 2648L425.6 2648L427.8 2648L430 2648L432.3 2648L434.5 2648L436.7 2648L439 2648L441.2 2648L443.4 2648L445.7 2648L447.9 2648L450.1 2648L452.3 2648L454.6 2648.1L456.8 2648.3L459 2648.8L461.3 2649.9L463.5 2656.8L463.5 2656.8L461.3 2663.6L459 2664.7L456.8 2665.2L454.6 2665.4L452.3 2665.5L450.1 2665.5L447.9 2665.5L445.7 2665.5L443.4 2665.5L441.2 2665.5L439 2665.5L436.7 2665.5L434.5 2665.5L432.3 2665.5L430 2665.5L427.8 2665.5L425.6 2665.5L423.3 2665.5L421.1 2665.5L418.9 2665.5L416.7 2665.5L414.4 2665.4L412.2 2665.2L410 2664.7L407.7 2663.6L405.5 2656.8Z"/></g><g fill="#080808" opacity="0.97" filter="url(#bl9)"><path d="M405.5 2656.8L407.7 2649.9L410 2648.8L412.2 2648.3L414.4 2648.1L416.7 2648L418.9 2648L421.1 2648L423.3 2648L425.6 2648L427.8 2648L430 2648L432.3 2648L434.5 2648L436.7 2648L439 2648L441.2 2648L443.4 2648L445.7 2648L447.9 2648L450.1 2648L452.3 2648L454.6 2648.1L456.8 2648.3L459 2648.8L461.3 2649.9L463.5 2656.8L463.5 2656.8L461.3 2663.6L459 2664.7L456.8 2665.2L454.6 2665.4L452.3 2665.5L450.1 2665.5L447.9 2665.5L445.7 2665.5L443.4 2665.5L441.2 2665.5L439 2665.5L436.7 2665.5L434.5 2665.5L432.3 2665.5L430 2665.5L427.8 2665.5L425.6 2665.5L423.3 2665.5L421.1 2665.5L418.9 2665.5L416.7 2665.5L414.4 2665.4L412.2 2665.2L410 2664.7L407.7 2663.6L405.5 2656.8Z"/></g>
<g fill="#1a1a1a" opacity="0.3" filter="url(#bl8)"><path d="M491 2661.2L493.2 2654.8L495.3 2653.7L497.5 2653.2L499.7 2653.1L501.8 2653L504 2653L506.2 2653L508.4 2653L510.5 2653L512.7 2653L514.9 2653L517 2653L519.2 2653L521.4 2653L523.5 2653L525.7 2653L527.9 2653L530 2653L532.2 2653L534.4 2653L536.6 2653L538.7 2653.1L540.9 2653.2L543.1 2653.7L545.2 2654.8L547.4 2661.2L547.4 2661.2L545.2 2667.7L543.1 2668.8L540.9 2669.3L538.7 2669.4L536.6 2669.5L534.4 2669.5L532.2 2669.5L530 2669.5L527.9 2669.5L525.7 2669.5L523.5 2669.5L521.4 2669.5L519.2 2669.5L517 2669.5L514.9 2669.5L512.7 2669.5L510.5 2669.5L508.4 2669.5L506.2 2669.5L504 2669.5L501.8 2669.5L499.7 2669.4L497.5 2669.3L495.3 2668.8L493.2 2667.7L491 2661.2Z"/></g><g fill="#080808" opacity="0.97" filter="url(#bl9)"><path d="M491 2661.2L493.2 2654.8L495.3 2653.7L497.5 2653.2L499.7 2653.1L501.8 2653L504 2653L506.2 2653L508.4 2653L510.5 2653L512.7 2653L514.9 2653L517 2653L519.2 2653L521.4 2653L523.5 2653L525.7 2653L527.9 2653L530 2653L532.2 2653L534.4 2653L536.6 2653L538.7 2653.1L540.9 2653.2L543.1 2653.7L545.2 2654.8L547.4 2661.2L547.4 2661.2L545.2 2667.7L543.1 2668.8L540.9 2669.3L538.7 2669.4L536.6 2669.5L534.4 2669.5L532.2 2669.5L530 2669.5L527.9 2669.5L525.7 2669.5L523.5 2669.5L521.4 2669.5L519.2 2669.5L517 2669.5L514.9 2669.5L512.7 2669.5L510.5 2669.5L508.4 2669.5L506.2 2669.5L504 2669.5L501.8 2669.5L499.7 2669.4L497.5 2669.3L495.3 2668.8L493.2 2667.7L491 2661.2Z"/></g>
<g fill="#1a1a1a" opacity="0.3" filter="url(#bl8)"><path d="M576.5 2662.8L578.7 2656.2L581 2655.2L583.2 2654.7L585.4 2654.5L587.7 2654.5L589.9 2654.5L592.1 2654.5L594.3 2654.5L596.6 2654.5L598.8 2654.5L601 2654.5L603.3 2654.5L605.5 2654.5L607.7 2654.5L610 2654.5L612.2 2654.5L614.4 2654.5L616.7 2654.5L618.9 2654.5L621.1 2654.5L623.3 2654.5L625.6 2654.5L627.8 2654.7L630 2655.2L632.3 2656.2L634.5 2662.8L634.5 2662.8L632.3 2669.3L630 2670.3L627.8 2670.8L625.6 2671L623.3 2671L621.1 2671L618.9 2671L616.7 2671L614.4 2671L612.2 2671L610 2671L607.7 2671L605.5 2671L603.3 2671L601 2671L598.8 2671L596.6 2671L594.3 2671L592.1 2671L589.9 2671L587.7 2671L585.4 2671L583.2 2670.8L581 2670.3L578.7 2669.3L576.5 2662.8Z"/></g><g fill="#080808" opacity="0.97" filter="url(#bl9)"><path d="M576.5 2662.8L578.7 2656.2L581 2655.2L583.2 2654.7L585.4 2654.5L587.7 2654.5L589.9 2654.5L592.1 2654.5L594.3 2654.5L596.6 2654.5L598.8 2654.5L601 2654.5L603.3 2654.5L605.5 2654.5L607.7 2654.5L610 2654.5L612.2 2654.5L614.4 2654.5L616.7 2654.5L618.9 2654.5L621.1 2654.5L623.3 2654.5L625.6 2654.5L627.8 2654.7L630 2655.2L632.3 2656.2L634.5 2662.8L634.5 2662.8L632.3 2669.3L630 2670.3L627.8 2670.8L625.6 2671L623.3 2671L621.1 2671L618.9 2671L616.7 2671L614.4 2671L612.2 2671L610 2671L607.7 2671L605.5 2671L603.3 2671L601 2671L598.8 2671L596.6 2671L594.3 2671L592.1 2671L589.9 2671L587.7 2671L585.4 2671L583.2 2670.8L581 2670.3L578.7 2669.3L576.5 2662.8Z"/></g>
<ellipse cx="661" cy="2640" rx="4" ry="14" fill="#111" opacity="0.45" filter="url(#bl5)"/>
</g>
<rect x="295.8" y="2611.3" width="366.1" height="96.4" fill="none" stroke="#454242" stroke-width="2.1"/>
<g clip-path="url(#bc10)">
<rect x="295.8" y="2723.2" width="366.1" height="95.8" fill="#d3d3d3"/>
<rect x="295.8" y="2723.2" width="366.1" height="95.8" fill="url(#vig)" opacity="0.625"/>
<rect x="295.8" y="2723.2" width="366.1" height="95.8" filter="url(#nz)" opacity="0.22"/>
<rect x="295.8" y="2723.2" width="366.1" height="95.8" filter="url(#nz2)" opacity="0.3"/>
<g fill="#777" opacity="0.4" filter="url(#bl5)"><path d="M315 2765L317.1 2762.1L319.2 2762L321.3 2762L323.5 2762L325.6 2762L327.7 2762L329.8 2762L331.9 2762L334 2762L336.2 2762L338.3 2762L340.4 2762L342.5 2762L344.6 2762L346.7 2762L348.8 2762L351 2762L353.1 2762L355.2 2762L357.3 2762L359.4 2762L361.5 2762L363.7 2762L365.8 2762L367.9 2762.1L370 2765L370 2765L367.9 2767.9L365.8 2768L363.7 2768L361.5 2768L359.4 2768L357.3 2768L355.2 2768L353.1 2768L351 2768L348.8 2768L346.7 2768L344.6 2768L342.5 2768L340.4 2768L338.3 2768L336.2 2768L334 2768L331.9 2768L329.8 2768L327.7 2768L325.6 2768L323.5 2768L321.3 2768L319.2 2768L317.1 2767.9L315 2765Z"/></g>
<g fill="#777" opacity="0.45" filter="url(#bl5)"><path d="M405 2769.5L406.9 2766.3L408.8 2766L410.7 2766L412.5 2766L414.4 2766L416.3 2766L418.2 2766L420.1 2766L422 2766L423.8 2766L425.7 2766L427.6 2766L429.5 2766L431.4 2766L433.3 2766L435.2 2766L437 2766L438.9 2766L440.8 2766L442.7 2766L444.6 2766L446.5 2766L448.3 2766L450.2 2766L452.1 2766.3L454 2769.5L454 2769.5L452.1 2772.7L450.2 2773L448.3 2773L446.5 2773L444.6 2773L442.7 2773L440.8 2773L438.9 2773L437 2773L435.2 2773L433.3 2773L431.4 2773L429.5 2773L427.6 2773L425.7 2773L423.8 2773L422 2773L420.1 2773L418.2 2773L416.3 2773L414.4 2773L412.5 2773L410.7 2773L408.8 2773L406.9 2772.7L405 2769.5Z"/></g>
<g fill="#1a1a1a" opacity="0.15" filter="url(#bl3)"><path d="M489 2769.5L491.2 2764.1L493.5 2763.3L495.7 2763.1L497.9 2763L500.2 2763L502.4 2763L504.6 2763L506.8 2763L509.1 2763L511.3 2763L513.5 2763L515.8 2763L518 2763L520.2 2763L522.5 2763L524.7 2763L526.9 2763L529.2 2763L531.4 2763L533.6 2763L535.8 2763L538.1 2763L540.3 2763.1L542.5 2763.3L544.8 2764.1L547 2769.5L547 2769.5L544.8 2774.9L542.5 2775.7L540.3 2775.9L538.1 2776L535.8 2776L533.6 2776L531.4 2776L529.2 2776L526.9 2776L524.7 2776L522.5 2776L520.2 2776L518 2776L515.8 2776L513.5 2776L511.3 2776L509.1 2776L506.8 2776L504.6 2776L502.4 2776L500.2 2776L497.9 2776L495.7 2775.9L493.5 2775.7L491.2 2774.9L489 2769.5Z"/></g><g fill="#262626" opacity="0.85" filter="url(#bl10)"><path d="M489 2769.5L491.2 2764.1L493.5 2763.3L495.7 2763.1L497.9 2763L500.2 2763L502.4 2763L504.6 2763L506.8 2763L509.1 2763L511.3 2763L513.5 2763L515.8 2763L518 2763L520.2 2763L522.5 2763L524.7 2763L526.9 2763L529.2 2763L531.4 2763L533.6 2763L535.8 2763L538.1 2763L540.3 2763.1L542.5 2763.3L544.8 2764.1L547 2769.5L547 2769.5L544.8 2774.9L542.5 2775.7L540.3 2775.9L538.1 2776L535.8 2776L533.6 2776L531.4 2776L529.2 2776L526.9 2776L524.7 2776L522.5 2776L520.2 2776L518 2776L515.8 2776L513.5 2776L511.3 2776L509.1 2776L506.8 2776L504.6 2776L502.4 2776L500.2 2776L497.9 2776L495.7 2775.9L493.5 2775.7L491.2 2774.9L489 2769.5Z"/></g>
<g fill="#555" opacity="0.62" filter="url(#bl5)"><path d="M576 2765.8L578.1 2760.9L580.2 2760.2L582.3 2760L584.5 2760L586.6 2760L588.7 2760L590.8 2760L592.9 2760L595 2760L597.2 2760L599.3 2760L601.4 2760L603.5 2760L605.6 2760L607.7 2760L609.8 2760L612 2760L614.1 2760L616.2 2760L618.3 2760L620.4 2760L622.5 2760L624.7 2760L626.8 2760.2L628.9 2760.9L631 2765.8L631 2765.8L628.9 2770.7L626.8 2771.4L624.7 2771.6L622.5 2771.6L620.4 2771.6L618.3 2771.6L616.2 2771.6L614.1 2771.6L612 2771.6L609.8 2771.6L607.7 2771.6L605.6 2771.6L603.5 2771.6L601.4 2771.6L599.3 2771.6L597.2 2771.6L595 2771.6L592.9 2771.6L590.8 2771.6L588.7 2771.6L586.6 2771.6L584.5 2771.6L582.3 2771.6L580.2 2771.4L578.1 2770.7L576 2765.8Z"/></g>
<g fill="#0c0c0c" opacity="0.85" filter="url(#bl6)"><path d="M487 2769.5L487.6 2766.7L488.2 2765.6L488.7 2764.7L489.3 2764L489.9 2763.4L490.5 2762.9L491 2762.5L491.6 2762.1L492.2 2761.7L492.8 2761.4L493.3 2761.1L493.9 2760.8L494.5 2760.6L495.1 2760.8L495.7 2761.1L496.2 2761.4L496.8 2761.7L497.4 2762.1L498 2762.5L498.5 2762.9L499.1 2763.4L499.7 2764L500.3 2764.7L500.8 2765.6L501.4 2766.7L502 2769.5L502 2769.5L501.4 2772.3L500.8 2773.4L500.3 2774.3L499.7 2775L499.1 2775.6L498.5 2776.1L498 2776.5L497.4 2776.9L496.8 2777.3L496.2 2777.6L495.7 2777.9L495.1 2778.2L494.5 2778.4L493.9 2778.2L493.3 2777.9L492.8 2777.6L492.2 2777.3L491.6 2776.9L491 2776.5L490.5 2776.1L489.9 2775.6L489.3 2775L488.7 2774.3L488.2 2773.4L487.6 2772.3L487 2769.5Z"/></g>
<g fill="#666" opacity="0.45" filter="url(#bl5)"><path d="M489 2786.5L489.4 2784.6L489.8 2783.9L490.3 2783.3L490.7 2782.8L491.1 2782.5L491.5 2782.1L492 2781.8L492.4 2781.6L492.8 2781.3L493.2 2781.1L493.7 2781L494.1 2780.8L494.5 2780.7L494.9 2780.8L495.3 2781L495.8 2781.1L496.2 2781.3L496.6 2781.6L497 2781.8L497.5 2782.1L497.9 2782.5L498.3 2782.8L498.7 2783.3L499.2 2783.9L499.6 2784.6L500 2786.5L500 2786.5L499.6 2788.4L499.2 2789.1L498.7 2789.7L498.3 2790.2L497.9 2790.5L497.5 2790.9L497 2791.2L496.6 2791.4L496.2 2791.7L495.8 2791.9L495.3 2792L494.9 2792.2L494.5 2792.3L494.1 2792.2L493.7 2792L493.2 2791.9L492.8 2791.7L492.4 2791.4L492 2791.2L491.5 2790.9L491.1 2790.5L490.7 2790.2L490.3 2789.7L489.8 2789.1L489.4 2788.4L489 2786.5Z"/></g>
<ellipse cx="661" cy="2795" rx="3" ry="10" fill="#111" opacity="0.35" filter="url(#bl5)"/>
</g>
<rect x="295.8" y="2723.2" width="366.1" height="95.8" fill="none" stroke="#454242" stroke-width="2.1"/>
<g clip-path="url(#bc11)">
<rect x="295.8" y="2835.2" width="366.1" height="96.1" fill="#8f8f8f"/>
<rect x="295.8" y="2835.2" width="366.1" height="96.1" fill="url(#vig)" opacity="1"/>
<rect x="295.8" y="2835.2" width="366.1" height="96.1" fill="url(#dtop)"/>
<rect x="295.8" y="2835.2" width="366.1" height="96.1" filter="url(#nz)" opacity="0.176"/>
<rect x="295.8" y="2835.2" width="366.1" height="96.1" filter="url(#nz2)" opacity="0.24"/>
<g fill="#1a1a1a" opacity="0.35" filter="url(#bl8)"><path d="M314 2882L316.8 2871.7L319.6 2869.6L322.4 2868.5L325.2 2867.8L327.9 2867.4L330.7 2867.2L333.5 2867.1L336.3 2867L339.1 2866.9L341.9 2866.8L344.7 2866.8L347.5 2866.8L350.2 2866.8L353 2866.8L355.8 2866.8L358.6 2866.8L361.4 2866.9L364.2 2867L367 2867.1L369.8 2867.2L372.6 2867.4L375.3 2867.8L378.1 2868.5L380.9 2869.6L383.7 2871.7L386.5 2882L386.5 2882L383.7 2891.9L380.9 2893.5L378.1 2894.3L375.3 2894.6L372.6 2894.7L369.8 2894.7L367 2894.6L364.2 2894.5L361.4 2894.4L358.6 2894.3L355.8 2894.3L353 2894.3L350.2 2894.2L347.5 2894.3L344.7 2894.3L341.9 2894.3L339.1 2894.4L336.3 2894.5L333.5 2894.6L330.7 2894.7L327.9 2894.7L325.2 2894.6L322.4 2894.3L319.6 2893.5L316.8 2891.9L314 2882Z"/></g><g fill="#060606" filter="url(#bl10)"><path d="M314 2882L316.8 2871.7L319.6 2869.6L322.4 2868.5L325.2 2867.8L327.9 2867.4L330.7 2867.2L333.5 2867.1L336.3 2867L339.1 2866.9L341.9 2866.8L344.7 2866.8L347.5 2866.8L350.2 2866.8L353 2866.8L355.8 2866.8L358.6 2866.8L361.4 2866.9L364.2 2867L367 2867.1L369.8 2867.2L372.6 2867.4L375.3 2867.8L378.1 2868.5L380.9 2869.6L383.7 2871.7L386.5 2882L386.5 2882L383.7 2891.9L380.9 2893.5L378.1 2894.3L375.3 2894.6L372.6 2894.7L369.8 2894.7L367 2894.6L364.2 2894.5L361.4 2894.4L358.6 2894.3L355.8 2894.3L353 2894.3L350.2 2894.2L347.5 2894.3L344.7 2894.3L341.9 2894.3L339.1 2894.4L336.3 2894.5L333.5 2894.6L330.7 2894.7L327.9 2894.7L325.2 2894.6L322.4 2894.3L319.6 2893.5L316.8 2891.9L314 2882Z"/></g>
<g fill="#1a1a1a" opacity="0.35" filter="url(#bl8)"><path d="M397 2882.8L399.6 2872.2L402.3 2870L404.9 2868.8L407.5 2868L410.2 2867.6L412.8 2867.3L415.4 2867.1L418.1 2867L420.7 2866.9L423.3 2866.8L426 2866.8L428.6 2866.8L431.2 2866.8L433.9 2866.8L436.5 2866.8L439.2 2866.8L441.8 2866.9L444.4 2867L447.1 2867.1L449.7 2867.3L452.3 2867.6L455 2868L457.6 2868.8L460.2 2870L462.9 2872.2L465.5 2882.8L465.5 2882.8L462.9 2892.9L460.2 2894.6L457.6 2895.5L455 2895.9L452.3 2896.1L449.7 2896.1L447.1 2896.1L444.4 2896L441.8 2895.9L439.2 2895.8L436.5 2895.8L433.9 2895.8L431.2 2895.8L428.6 2895.8L426 2895.8L423.3 2895.8L420.7 2895.9L418.1 2896L415.4 2896.1L412.8 2896.1L410.2 2896.1L407.5 2895.9L404.9 2895.5L402.3 2894.6L399.6 2892.9L397 2882.8Z"/></g><g fill="#060606" filter="url(#bl10)"><path d="M397 2882.8L399.6 2872.2L402.3 2870L404.9 2868.8L407.5 2868L410.2 2867.6L412.8 2867.3L415.4 2867.1L418.1 2867L420.7 2866.9L423.3 2866.8L426 2866.8L428.6 2866.8L431.2 2866.8L433.9 2866.8L436.5 2866.8L439.2 2866.8L441.8 2866.9L444.4 2867L447.1 2867.1L449.7 2867.3L452.3 2867.6L455 2868L457.6 2868.8L460.2 2870L462.9 2872.2L465.5 2882.8L465.5 2882.8L462.9 2892.9L460.2 2894.6L457.6 2895.5L455 2895.9L452.3 2896.1L449.7 2896.1L447.1 2896.1L444.4 2896L441.8 2895.9L439.2 2895.8L436.5 2895.8L433.9 2895.8L431.2 2895.8L428.6 2895.8L426 2895.8L423.3 2895.8L420.7 2895.9L418.1 2896L415.4 2896.1L412.8 2896.1L410.2 2896.1L407.5 2895.9L404.9 2895.5L402.3 2894.6L399.6 2892.9L397 2882.8Z"/></g>
<g fill="#1a1a1a" opacity="0.35" filter="url(#bl8)"><path d="M481 2883.2L483.6 2872.7L486.1 2870.7L488.7 2869.7L491.2 2869.1L493.8 2868.7L496.3 2868.6L498.9 2868.6L501.5 2868.6L504 2868.7L506.6 2868.8L509.1 2868.8L511.7 2868.9L514.2 2869L516.8 2869.1L519.4 2869.2L521.9 2869.2L524.5 2869.3L527 2869.4L529.6 2869.5L532.2 2869.7L534.7 2870L537.3 2870.4L539.8 2871.2L542.4 2872.4L544.9 2874.5L547.5 2885.2L547.5 2885.2L544.9 2895.8L542.4 2897.8L539.8 2898.8L537.3 2899.4L534.7 2899.8L532.2 2899.9L529.6 2899.9L527 2899.9L524.5 2899.8L521.9 2899.7L519.4 2899.7L516.8 2899.6L514.2 2899.5L511.7 2899.4L509.1 2899.3L506.6 2899.3L504 2899.2L501.5 2899.1L498.9 2899L496.3 2898.8L493.8 2898.5L491.2 2898.1L488.7 2897.3L486.1 2896.1L483.6 2894L481 2883.2Z"/></g><g fill="#060606" filter="url(#bl10)"><path d="M481 2883.2L483.6 2872.7L486.1 2870.7L488.7 2869.7L491.2 2869.1L493.8 2868.7L496.3 2868.6L498.9 2868.6L501.5 2868.6L504 2868.7L506.6 2868.8L509.1 2868.8L511.7 2868.9L514.2 2869L516.8 2869.1L519.4 2869.2L521.9 2869.2L524.5 2869.3L527 2869.4L529.6 2869.5L532.2 2869.7L534.7 2870L537.3 2870.4L539.8 2871.2L542.4 2872.4L544.9 2874.5L547.5 2885.2L547.5 2885.2L544.9 2895.8L542.4 2897.8L539.8 2898.8L537.3 2899.4L534.7 2899.8L532.2 2899.9L529.6 2899.9L527 2899.9L524.5 2899.8L521.9 2899.7L519.4 2899.7L516.8 2899.6L514.2 2899.5L511.7 2899.4L509.1 2899.3L506.6 2899.3L504 2899.2L501.5 2899.1L498.9 2899L496.3 2898.8L493.8 2898.5L491.2 2898.1L488.7 2897.3L486.1 2896.1L483.6 2894L481 2883.2Z"/></g>
<g fill="#1a1a1a" opacity="0.35" filter="url(#bl8)"><path d="M561 2884.5L563.8 2875.3L566.7 2873.5L569.5 2872.6L572.4 2872L575.2 2871.6L578.1 2871.4L580.9 2871.4L583.8 2871.3L586.6 2871.2L589.5 2871.2L592.3 2871.1L595.2 2871.1L598 2871L600.8 2870.9L603.7 2870.9L606.5 2870.8L609.4 2870.8L612.2 2870.7L615.1 2870.7L617.9 2870.6L620.8 2870.7L623.6 2871L626.5 2871.7L629.3 2872.8L632.2 2875.1L635 2887.5L635 2887.5L632.2 2899.7L629.3 2901.7L626.5 2902.7L623.6 2903L620.8 2903.1L617.9 2903L615.1 2902.7L612.2 2902.4L609.4 2902.2L606.5 2901.9L603.7 2901.6L600.8 2901.3L598 2901L595.2 2900.7L592.3 2900.4L589.5 2900.1L586.6 2899.8L583.8 2899.6L580.9 2899.3L578.1 2898.9L575.2 2898.5L572.4 2897.9L569.5 2897.1L566.7 2895.9L563.8 2893.9L561 2884.5Z"/></g><g fill="#060606" filter="url(#bl10)"><path d="M561 2884.5L563.8 2875.3L566.7 2873.5L569.5 2872.6L572.4 2872L575.2 2871.6L578.1 2871.4L580.9 2871.4L583.8 2871.3L586.6 2871.2L589.5 2871.2L592.3 2871.1L595.2 2871.1L598 2871L600.8 2870.9L603.7 2870.9L606.5 2870.8L609.4 2870.8L612.2 2870.7L615.1 2870.7L617.9 2870.6L620.8 2870.7L623.6 2871L626.5 2871.7L629.3 2872.8L632.2 2875.1L635 2887.5L635 2887.5L632.2 2899.7L629.3 2901.7L626.5 2902.7L623.6 2903L620.8 2903.1L617.9 2903L615.1 2902.7L612.2 2902.4L609.4 2902.2L606.5 2901.9L603.7 2901.6L600.8 2901.3L598 2901L595.2 2900.7L592.3 2900.4L589.5 2900.1L586.6 2899.8L583.8 2899.6L580.9 2899.3L578.1 2898.9L575.2 2898.5L572.4 2897.9L569.5 2897.1L566.7 2895.9L563.8 2893.9L561 2884.5Z"/></g>
<ellipse cx="652" cy="2854" rx="9" ry="6" fill="#111" opacity="0.6" filter="url(#bl5)"/>
<ellipse cx="660" cy="2925" rx="5" ry="8" fill="#111" opacity="0.5" filter="url(#bl5)"/>
</g>
<rect x="295.8" y="2835.2" width="366.1" height="96.1" fill="none" stroke="#454242" stroke-width="2.1"/>
<text x="291.3" y="2451.3" font-size="36.7" text-anchor="end">JAK2</text>
<text x="294.2" y="2566.8" font-size="36.7" text-anchor="end">P-JAK2</text>
<text x="293" y="2672.3" font-size="36.7" text-anchor="end">STAT3</text>
<text x="295" y="2784.8" font-size="36.7" text-anchor="end">P-STAT3</text>
<text x="295" y="2891" font-size="36.7" text-anchor="end">GAPDH</text>
<text x="687.2" y="2456.3" font-size="35.7">125kDa</text>
<text x="687.2" y="2562" font-size="35.7">125kDa</text>
<text x="686.9" y="2672.3" font-size="35.5">88kDa</text>
<text x="686.9" y="2784.9" font-size="35.5">88kDa</text>
<text x="686.9" y="2899" font-size="35.5">36kDa</text>
</svg>
</body></html>
